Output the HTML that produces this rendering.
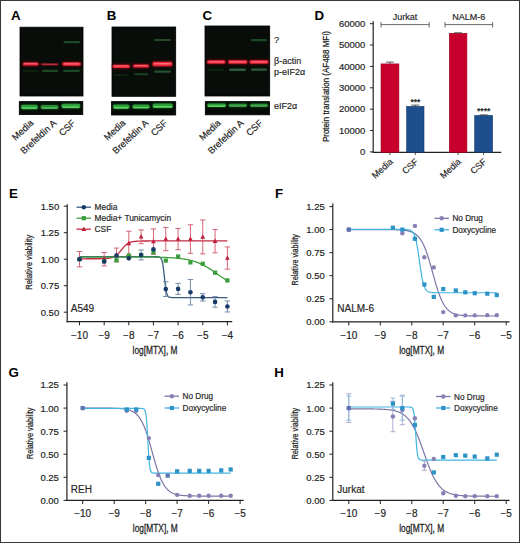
<!DOCTYPE html>
<html><head><meta charset="utf-8"><style>
html,body{margin:0;padding:0;background:#fff;overflow:hidden;}
svg{display:block;}
text{font-family:'Liberation Sans', sans-serif;}
text.r{stroke:#222;stroke-width:0.18px;}
</style></head><body>
<svg width="520" height="543" viewBox="0 0 520 543">
<defs><filter id="bl" x="-20%" y="-100%" width="140%" height="300%"><feGaussianBlur stdDeviation="0.6"/></filter><filter id="bl2" x="-20%" y="-100%" width="140%" height="300%"><feGaussianBlur stdDeviation="1.1"/></filter></defs>
<rect x="0.5" y="0.5" width="519" height="542" fill="#fff" stroke="#383838" stroke-width="1"/>
<text x="11.10" y="19.70" font-size="13.3" text-anchor="start" font-weight="bold" fill="#000" >A</text>
<text x="106.80" y="19.70" font-size="13.3" text-anchor="start" font-weight="bold" fill="#000" >B</text>
<text x="202.40" y="19.80" font-size="13.3" text-anchor="start" font-weight="bold" fill="#000" >C</text>
<text x="314.60" y="19.70" font-size="13.3" text-anchor="start" font-weight="bold" fill="#000" >D</text>
<text x="9.10" y="198.40" font-size="13.3" text-anchor="start" font-weight="bold" fill="#000" >E</text>
<text x="275.10" y="198.40" font-size="13.3" text-anchor="start" font-weight="bold" fill="#000" >F</text>
<text x="8.40" y="377.00" font-size="13.3" text-anchor="start" font-weight="bold" fill="#000" >G</text>
<text x="274.20" y="377.10" font-size="13.3" text-anchor="start" font-weight="bold" fill="#000" >H</text>
<rect x="20" y="27.2" width="63.0" height="68.8" fill="#080d09" stroke="#000" stroke-width="0.8"/>
<rect x="19.3" y="101.6" width="63.5" height="13.0" fill="#060a07" stroke="#000" stroke-width="0.8"/>
<rect x="22.3" y="61.6" width="16.8" height="4.8" rx="1.6" fill="#7a0c18" opacity="0.8" filter="url(#bl2)"/>
<rect x="22.8" y="62.4" width="15.8" height="3.2" rx="1.6" fill="#ee2436" opacity="1.0" filter="url(#bl)"/>
<rect x="24.3" y="63.2" width="12.8" height="1.1" rx="0.6" fill="#ff8a96" opacity="0.75" filter="url(#bl)"/>
<rect x="40.8" y="63.2" width="17.8" height="2.2" rx="1.1" fill="#9c1826" opacity="1.0" filter="url(#bl)"/>
<rect x="42.8" y="64.0" width="13.8" height="0.7" rx="0.3" fill="#d05060" opacity="0.6" filter="url(#bl)"/>
<rect x="61.9" y="61.5" width="19.4" height="5.0" rx="1.6" fill="#7a0c18" opacity="0.8" filter="url(#bl2)"/>
<rect x="62.4" y="62.3" width="18.4" height="3.4" rx="1.6" fill="#ee2436" opacity="1.0" filter="url(#bl)"/>
<rect x="63.9" y="63.2" width="15.4" height="1.2" rx="0.6" fill="#ff8a96" opacity="0.75" filter="url(#bl)"/>
<rect x="23.0" y="70.3" width="15.0" height="2.0" rx="1.0" fill="#10240f" opacity="1.0" filter="url(#bl)"/>
<rect x="42.0" y="69.8" width="16.0" height="2.2" rx="1.1" fill="#1e4622" opacity="1.0" filter="url(#bl)"/>
<rect x="63.0" y="69.8" width="17.0" height="2.2" rx="1.1" fill="#1e4622" opacity="1.0" filter="url(#bl)"/>
<rect x="63.5" y="41.1" width="16.5" height="2.2" rx="1.1" fill="#1e4a26" opacity="1.0" filter="url(#bl)"/>
<rect x="20.5" y="104.1" width="17.8" height="5.8" rx="1.6" fill="#0f4016" opacity="0.9" filter="url(#bl2)"/>
<rect x="21.0" y="104.8" width="16.8" height="4.4" rx="1.6" fill="#2f9e3a" opacity="1.0" filter="url(#bl)"/>
<rect x="22.0" y="107.3" width="14.8" height="1.5" rx="0.8" fill="#6ae072" opacity="0.85" filter="url(#bl)"/>
<rect x="40.2" y="104.2" width="18.6" height="5.6" rx="1.6" fill="#0f4016" opacity="0.9" filter="url(#bl2)"/>
<rect x="40.7" y="104.9" width="17.6" height="4.2" rx="1.6" fill="#2a8a34" opacity="1.0" filter="url(#bl)"/>
<rect x="41.7" y="107.3" width="15.6" height="1.5" rx="0.7" fill="#58c862" opacity="0.85" filter="url(#bl)"/>
<rect x="61.0" y="103.1" width="19.7" height="5.8" rx="1.6" fill="#0f4016" opacity="0.9" filter="url(#bl2)"/>
<rect x="61.5" y="103.8" width="18.7" height="4.4" rx="1.6" fill="#2f9e3a" opacity="1.0" filter="url(#bl)"/>
<rect x="62.5" y="106.3" width="16.7" height="1.5" rx="0.8" fill="#6ae072" opacity="0.85" filter="url(#bl)"/>
<text class="r" x="34.0" y="123.8" font-size="9.3" text-anchor="end" fill="#222" transform="rotate(-43 34.0 123.8)">Media</text>
<text class="r" x="57.0" y="123.8" font-size="9.3" text-anchor="end" fill="#222" transform="rotate(-43 57.0 123.8)">Brefeldin A</text>
<text class="r" x="76.0" y="123.8" font-size="9.3" text-anchor="end" fill="#222" transform="rotate(-43 76.0 123.8)">CSF</text>
<rect x="112" y="27" width="63.7" height="69.3" fill="#080d09" stroke="#000" stroke-width="0.8"/>
<rect x="111.5" y="101.6" width="64.2" height="13.4" fill="#060a07" stroke="#000" stroke-width="0.8"/>
<rect x="112.0" y="63.9" width="18.5" height="4.8" rx="1.6" fill="#7a0c18" opacity="0.8" filter="url(#bl2)"/>
<rect x="112.5" y="64.7" width="17.5" height="3.2" rx="1.6" fill="#ee2436" opacity="1.0" filter="url(#bl)"/>
<rect x="114.0" y="65.5" width="14.5" height="1.1" rx="0.6" fill="#ff8a96" opacity="0.75" filter="url(#bl)"/>
<rect x="132.5" y="63.6" width="17.0" height="4.8" rx="1.6" fill="#7a0c18" opacity="0.8" filter="url(#bl2)"/>
<rect x="133.0" y="64.4" width="16.0" height="3.2" rx="1.6" fill="#ee2436" opacity="1.0" filter="url(#bl)"/>
<rect x="134.5" y="65.2" width="13.0" height="1.1" rx="0.6" fill="#ff8a96" opacity="0.75" filter="url(#bl)"/>
<rect x="152.0" y="61.0" width="20.8" height="6.0" rx="1.6" fill="#7a0c18" opacity="0.8" filter="url(#bl2)"/>
<rect x="152.5" y="61.8" width="19.8" height="4.4" rx="1.6" fill="#ee2436" opacity="1.0" filter="url(#bl)"/>
<rect x="154.0" y="63.0" width="16.8" height="1.5" rx="0.8" fill="#ff8a96" opacity="0.75" filter="url(#bl)"/>
<rect x="114.0" y="74.2" width="15.0" height="2.0" rx="1.0" fill="#0e200f" opacity="1.0" filter="url(#bl)"/>
<rect x="134.0" y="73.3" width="14.0" height="2.0" rx="1.0" fill="#1b401f" opacity="1.0" filter="url(#bl)"/>
<rect x="154.0" y="70.5" width="17.0" height="2.2" rx="1.1" fill="#245030" opacity="1.0" filter="url(#bl)"/>
<rect x="154.0" y="38.9" width="17.0" height="2.2" rx="1.1" fill="#204c2a" opacity="1.0" filter="url(#bl)"/>
<rect x="112.5" y="103.8" width="17.5" height="5.6" rx="1.6" fill="#0f4016" opacity="0.9" filter="url(#bl2)"/>
<rect x="113.0" y="104.5" width="16.5" height="4.2" rx="1.6" fill="#2f9e3a" opacity="1.0" filter="url(#bl)"/>
<rect x="114.0" y="106.9" width="14.5" height="1.5" rx="0.7" fill="#6ae072" opacity="0.85" filter="url(#bl)"/>
<rect x="131.9" y="103.9" width="18.3" height="5.4" rx="1.6" fill="#0f4016" opacity="0.9" filter="url(#bl2)"/>
<rect x="132.4" y="104.6" width="17.3" height="4.0" rx="1.6" fill="#2f9e3a" opacity="1.0" filter="url(#bl)"/>
<rect x="133.4" y="106.9" width="15.3" height="1.4" rx="0.7" fill="#6ae072" opacity="0.85" filter="url(#bl)"/>
<rect x="152.1" y="102.9" width="21.2" height="5.8" rx="1.6" fill="#0f4016" opacity="0.9" filter="url(#bl2)"/>
<rect x="152.6" y="103.6" width="20.2" height="4.4" rx="1.6" fill="#2f9e3a" opacity="1.0" filter="url(#bl)"/>
<rect x="153.6" y="106.1" width="18.2" height="1.5" rx="0.8" fill="#6ae072" opacity="0.85" filter="url(#bl)"/>
<text class="r" x="126.0" y="123.8" font-size="9.3" text-anchor="end" fill="#222" transform="rotate(-43 126.0 123.8)">Media</text>
<text class="r" x="149.0" y="123.8" font-size="9.3" text-anchor="end" fill="#222" transform="rotate(-43 149.0 123.8)">Brefeldin A</text>
<text class="r" x="168.0" y="123.8" font-size="9.3" text-anchor="end" fill="#222" transform="rotate(-43 168.0 123.8)">CSF</text>
<rect x="205" y="26" width="64.7" height="70.0" fill="#080d09" stroke="#000" stroke-width="0.8"/>
<rect x="205.3" y="101.6" width="64.2" height="13.2" fill="#060a07" stroke="#000" stroke-width="0.8"/>
<rect x="206.5" y="59.5" width="19.5" height="5.0" rx="1.6" fill="#7a0c18" opacity="0.8" filter="url(#bl2)"/>
<rect x="207.0" y="60.3" width="18.5" height="3.4" rx="1.6" fill="#ee2436" opacity="1.0" filter="url(#bl)"/>
<rect x="208.5" y="61.2" width="15.5" height="1.2" rx="0.6" fill="#ff8a96" opacity="0.75" filter="url(#bl)"/>
<rect x="227.5" y="59.5" width="20.5" height="5.0" rx="1.6" fill="#7a0c18" opacity="0.8" filter="url(#bl2)"/>
<rect x="228.0" y="60.3" width="19.5" height="3.4" rx="1.6" fill="#ee2436" opacity="1.0" filter="url(#bl)"/>
<rect x="229.5" y="61.2" width="16.5" height="1.2" rx="0.6" fill="#ff8a96" opacity="0.75" filter="url(#bl)"/>
<rect x="249.0" y="59.5" width="20.0" height="5.0" rx="1.6" fill="#7a0c18" opacity="0.8" filter="url(#bl2)"/>
<rect x="249.5" y="60.3" width="19.0" height="3.4" rx="1.6" fill="#ee2436" opacity="1.0" filter="url(#bl)"/>
<rect x="251.0" y="61.2" width="16.0" height="1.2" rx="0.6" fill="#ff8a96" opacity="0.75" filter="url(#bl)"/>
<rect x="208.0" y="69.0" width="16.0" height="2.0" rx="1.0" fill="#10240f" opacity="1.0" filter="url(#bl)"/>
<rect x="229.0" y="68.6" width="17.0" height="2.4" rx="1.2" fill="#2c5c3a" opacity="1.0" filter="url(#bl)"/>
<rect x="251.0" y="68.4" width="16.0" height="2.4" rx="1.2" fill="#2c5c3a" opacity="1.0" filter="url(#bl)"/>
<rect x="251.0" y="39.1" width="16.0" height="2.2" rx="1.1" fill="#1e4a26" opacity="1.0" filter="url(#bl)"/>
<rect x="206.7" y="102.8" width="19.8" height="5.0" rx="1.6" fill="#0f4016" opacity="0.9" filter="url(#bl2)"/>
<rect x="207.2" y="103.5" width="18.8" height="3.6" rx="1.6" fill="#2f9e3a" opacity="1.0" filter="url(#bl)"/>
<rect x="208.2" y="105.6" width="16.8" height="1.3" rx="0.6" fill="#6ae072" opacity="0.85" filter="url(#bl)"/>
<rect x="228.1" y="103.1" width="19.4" height="4.4" rx="1.6" fill="#0f4016" opacity="0.9" filter="url(#bl2)"/>
<rect x="228.6" y="103.8" width="18.4" height="3.0" rx="1.5" fill="#2a8a34" opacity="1.0" filter="url(#bl)"/>
<rect x="229.6" y="105.5" width="16.4" height="1.0" rx="0.5" fill="#58c862" opacity="0.85" filter="url(#bl)"/>
<rect x="249.5" y="103.1" width="19.0" height="4.4" rx="1.6" fill="#0f4016" opacity="0.9" filter="url(#bl2)"/>
<rect x="250.0" y="103.8" width="18.0" height="3.0" rx="1.5" fill="#2a8a34" opacity="1.0" filter="url(#bl)"/>
<rect x="251.0" y="105.5" width="16.0" height="1.0" rx="0.5" fill="#58c862" opacity="0.85" filter="url(#bl)"/>
<text class="r" x="221.3" y="123.8" font-size="9.3" text-anchor="end" fill="#222" transform="rotate(-43 221.3 123.8)">Media</text>
<text class="r" x="244.3" y="123.8" font-size="9.3" text-anchor="end" fill="#222" transform="rotate(-43 244.3 123.8)">Brefeldin A</text>
<text class="r" x="263.3" y="123.8" font-size="9.3" text-anchor="end" fill="#222" transform="rotate(-43 263.3 123.8)">CSF</text>
<text class="r" x="274.00" y="43.40" font-size="9" text-anchor="start" font-weight="normal" fill="#2a2a2a" >?</text>
<text class="r" x="274.00" y="63.70" font-size="9" text-anchor="start" font-weight="normal" fill="#2a2a2a" >&#946;-actin</text>
<text class="r" x="274.00" y="75.20" font-size="9" text-anchor="start" font-weight="normal" fill="#2a2a2a" >p-eIF2&#945;</text>
<text class="r" x="274.00" y="108.60" font-size="9" text-anchor="start" font-weight="normal" fill="#2a2a2a" >eIF2&#945;</text>
<line x1="373.2" y1="21.2" x2="373.2" y2="152.6" stroke="#222" stroke-width="1.2"/>
<line x1="372.6" y1="152.3" x2="501.3" y2="152.3" stroke="#222" stroke-width="1.2"/>
<line x1="370" y1="151.9" x2="373" y2="151.9" stroke="#222" stroke-width="1"/>
<text class="r" x="365.3" y="155.1" font-size="8.4" text-anchor="end" fill="#2a2a2a" transform="translate(365.3 0) scale(1.13 1) translate(-365.3 0)">0</text>
<line x1="370" y1="130.5" x2="373" y2="130.5" stroke="#222" stroke-width="1"/>
<text class="r" x="365.3" y="133.7" font-size="8.4" text-anchor="end" fill="#2a2a2a" transform="translate(365.3 0) scale(1.13 1) translate(-365.3 0)">10000</text>
<line x1="370" y1="109.2" x2="373" y2="109.2" stroke="#222" stroke-width="1"/>
<text class="r" x="365.3" y="112.4" font-size="8.4" text-anchor="end" fill="#2a2a2a" transform="translate(365.3 0) scale(1.13 1) translate(-365.3 0)">20000</text>
<line x1="370" y1="87.8" x2="373" y2="87.8" stroke="#222" stroke-width="1"/>
<text class="r" x="365.3" y="91.0" font-size="8.4" text-anchor="end" fill="#2a2a2a" transform="translate(365.3 0) scale(1.13 1) translate(-365.3 0)">30000</text>
<line x1="370" y1="66.4" x2="373" y2="66.4" stroke="#222" stroke-width="1"/>
<text class="r" x="365.3" y="69.6" font-size="8.4" text-anchor="end" fill="#2a2a2a" transform="translate(365.3 0) scale(1.13 1) translate(-365.3 0)">40000</text>
<line x1="370" y1="45.0" x2="373" y2="45.0" stroke="#222" stroke-width="1"/>
<text class="r" x="365.3" y="48.2" font-size="8.4" text-anchor="end" fill="#2a2a2a" transform="translate(365.3 0) scale(1.13 1) translate(-365.3 0)">50000</text>
<line x1="370" y1="23.7" x2="373" y2="23.7" stroke="#222" stroke-width="1"/>
<text class="r" x="365.3" y="26.9" font-size="8.4" text-anchor="end" fill="#2a2a2a" transform="translate(365.3 0) scale(1.13 1) translate(-365.3 0)">60000</text>
<rect x="381" y="63.9" width="17.9" height="88.4" fill="#c8002c" stroke="#a00020" stroke-width="0.6"/>
<line x1="389.95" y1="63.9" x2="389.95" y2="62.1" stroke="#333" stroke-width="0.8"/>
<line x1="385.95" y1="62.1" x2="393.95" y2="62.1" stroke="#333" stroke-width="0.8"/>
<line x1="389.9" y1="152.8" x2="389.9" y2="155" stroke="#222" stroke-width="0.8"/>
<rect x="406.6" y="106.4" width="17.4" height="45.9" fill="#1d4f8f" stroke="#153a6a" stroke-width="0.6"/>
<line x1="415.3" y1="106.4" x2="415.3" y2="105.1" stroke="#333" stroke-width="0.8"/>
<line x1="411.3" y1="105.1" x2="419.3" y2="105.1" stroke="#333" stroke-width="0.8"/>
<line x1="415.3" y1="152.8" x2="415.3" y2="155" stroke="#222" stroke-width="0.8"/>
<rect x="449.3" y="33.3" width="17.6" height="119.0" fill="#c8002c" stroke="#a00020" stroke-width="0.6"/>
<line x1="458.1" y1="33.3" x2="458.1" y2="32.8" stroke="#333" stroke-width="0.8"/>
<line x1="454.1" y1="32.8" x2="462.1" y2="32.8" stroke="#333" stroke-width="0.8"/>
<line x1="458.1" y1="152.8" x2="458.1" y2="155" stroke="#222" stroke-width="0.8"/>
<rect x="474.7" y="115.4" width="17.9" height="36.9" fill="#1d4f8f" stroke="#153a6a" stroke-width="0.6"/>
<line x1="483.65" y1="115.4" x2="483.65" y2="114.9" stroke="#333" stroke-width="0.8"/>
<line x1="479.65" y1="114.9" x2="487.65" y2="114.9" stroke="#333" stroke-width="0.8"/>
<line x1="483.6" y1="152.8" x2="483.6" y2="155" stroke="#222" stroke-width="0.8"/>
<text class="r" x="393.4" y="162.5" font-size="9" text-anchor="end" fill="#2a2a2a" transform="rotate(-42 393.4 162.5)">Media</text>
<text class="r" x="418.8" y="162.5" font-size="9" text-anchor="end" fill="#2a2a2a" transform="rotate(-42 418.8 162.5)">CSF</text>
<text class="r" x="461.6" y="162.5" font-size="9" text-anchor="end" fill="#2a2a2a" transform="rotate(-42 461.6 162.5)">Media</text>
<text class="r" x="487.1" y="162.5" font-size="9" text-anchor="end" fill="#2a2a2a" transform="rotate(-42 487.1 162.5)">CSF</text>
<line x1="381" y1="24.6" x2="429.2" y2="24.6" stroke="#444" stroke-width="0.8"/>
<line x1="381" y1="22" x2="381" y2="27.5" stroke="#444" stroke-width="0.8"/>
<line x1="429.2" y1="22" x2="429.2" y2="27.5" stroke="#444" stroke-width="0.8"/>
<text class="r" x="405.10" y="20.30" font-size="9" text-anchor="middle" font-weight="normal" fill="#2a2a2a" >Jurkat</text>
<line x1="445" y1="24.6" x2="492.6" y2="24.6" stroke="#444" stroke-width="0.8"/>
<line x1="445" y1="22" x2="445" y2="27.5" stroke="#444" stroke-width="0.8"/>
<line x1="492.6" y1="22" x2="492.6" y2="27.5" stroke="#444" stroke-width="0.8"/>
<text class="r" x="468.80" y="20.30" font-size="9" text-anchor="middle" font-weight="normal" fill="#2a2a2a" >NALM-6</text>
<text x="415.40" y="104.60" font-size="8.6" text-anchor="middle" font-weight="bold" fill="#222" >***</text>
<text x="483.70" y="114.20" font-size="8.6" text-anchor="middle" font-weight="bold" fill="#222" >****</text>
<text x="0" y="0" font-size="9.6" text-anchor="middle" fill="#222" stroke="#222" stroke-width="0.25" transform="translate(329.2 86.5) rotate(-90) scale(0.83 1)">Protein translation (AF488 MFI)</text>
<line x1="67.2" y1="204.3" x2="67.2" y2="322.3" stroke="#222" stroke-width="1.2"/>
<line x1="66.60000000000001" y1="321.7" x2="232.3" y2="321.7" stroke="#222" stroke-width="1.2"/>
<line x1="63.800000000000004" y1="206.2" x2="67.2" y2="206.2" stroke="#222" stroke-width="1"/>
<text class="r" x="59.20" y="209.60" font-size="9.5" text-anchor="end" font-weight="normal" fill="#222" >1.50</text>
<line x1="63.800000000000004" y1="232.7" x2="67.2" y2="232.7" stroke="#222" stroke-width="1"/>
<text class="r" x="59.20" y="236.10" font-size="9.5" text-anchor="end" font-weight="normal" fill="#222" >1.25</text>
<line x1="63.800000000000004" y1="259.2" x2="67.2" y2="259.2" stroke="#222" stroke-width="1"/>
<text class="r" x="59.20" y="262.60" font-size="9.5" text-anchor="end" font-weight="normal" fill="#222" >1.00</text>
<line x1="63.800000000000004" y1="285.7" x2="67.2" y2="285.7" stroke="#222" stroke-width="1"/>
<text class="r" x="59.20" y="289.10" font-size="9.5" text-anchor="end" font-weight="normal" fill="#222" >0.75</text>
<line x1="63.800000000000004" y1="312.2" x2="67.2" y2="312.2" stroke="#222" stroke-width="1"/>
<text class="r" x="59.20" y="315.60" font-size="9.5" text-anchor="end" font-weight="normal" fill="#222" >0.50</text>
<line x1="79.5" y1="321.7" x2="79.5" y2="325.3" stroke="#222" stroke-width="1"/>
<text class="r" x="79.50" y="338.60" font-size="10" text-anchor="middle" font-weight="normal" fill="#222" >&#8722;10</text>
<line x1="104.2" y1="321.7" x2="104.2" y2="325.3" stroke="#222" stroke-width="1"/>
<text class="r" x="104.15" y="338.60" font-size="10" text-anchor="middle" font-weight="normal" fill="#222" >&#8722;9</text>
<line x1="128.8" y1="321.7" x2="128.8" y2="325.3" stroke="#222" stroke-width="1"/>
<text class="r" x="128.80" y="338.60" font-size="10" text-anchor="middle" font-weight="normal" fill="#222" >&#8722;8</text>
<line x1="153.4" y1="321.7" x2="153.4" y2="325.3" stroke="#222" stroke-width="1"/>
<text class="r" x="153.45" y="338.60" font-size="10" text-anchor="middle" font-weight="normal" fill="#222" >&#8722;7</text>
<line x1="178.1" y1="321.7" x2="178.1" y2="325.3" stroke="#222" stroke-width="1"/>
<text class="r" x="178.10" y="338.60" font-size="10" text-anchor="middle" font-weight="normal" fill="#222" >&#8722;6</text>
<line x1="202.8" y1="321.7" x2="202.8" y2="325.3" stroke="#222" stroke-width="1"/>
<text class="r" x="202.75" y="338.60" font-size="10" text-anchor="middle" font-weight="normal" fill="#222" >&#8722;5</text>
<line x1="227.4" y1="321.7" x2="227.4" y2="325.3" stroke="#222" stroke-width="1"/>
<text class="r" x="227.40" y="338.60" font-size="10" text-anchor="middle" font-weight="normal" fill="#222" >&#8722;4</text>
<text x="0" y="0" font-size="10" text-anchor="middle" fill="#222" stroke="#222" stroke-width="0.25" transform="translate(155.0 353.8) scale(0.835 1)">log[MTX], M</text>
<text x="0" y="0" font-size="9.2" text-anchor="middle" fill="#222" stroke="#222" stroke-width="0.25" transform="translate(32.2 262.3) rotate(-90) scale(0.835 1)">Relative viability</text>
<text class="r" x="70.80" y="311.80" font-size="10" text-anchor="start" font-weight="normal" fill="#2a2a2a" >A549</text>
<polyline points="79.50,258.78 79.99,258.78 80.49,258.78 80.98,258.78 81.47,258.78 81.96,258.78 82.46,258.78 82.95,258.78 83.44,258.78 83.94,258.78 84.43,258.78 84.92,258.78 85.42,258.78 85.91,258.78 86.40,258.78 86.90,258.77 87.39,258.77 87.88,258.77 88.37,258.77 88.87,258.77 89.36,258.77 89.85,258.77 90.35,258.77 90.84,258.77 91.33,258.77 91.83,258.77 92.32,258.77 92.81,258.77 93.30,258.77 93.80,258.77 94.29,258.77 94.78,258.77 95.28,258.76 95.77,258.76 96.26,258.76 96.75,258.76 97.25,258.76 97.74,258.75 98.23,258.75 98.73,258.75 99.22,258.74 99.71,258.74 100.21,258.73 100.70,258.72 101.19,258.71 101.69,258.71 102.18,258.69 102.67,258.68 103.16,258.67 103.66,258.65 104.15,258.64 104.64,258.62 105.14,258.59 105.63,258.56 106.12,258.53 106.61,258.50 107.11,258.46 107.60,258.41 108.09,258.36 108.59,258.30 109.08,258.23 109.57,258.15 110.07,258.06 110.56,257.96 111.05,257.85 111.55,257.72 112.04,257.57 112.53,257.41 113.02,257.22 113.52,257.02 114.01,256.78 114.50,256.53 115.00,256.24 115.49,255.93 115.98,255.58 116.47,255.20 116.97,254.79 117.46,254.35 117.95,253.87 118.45,253.36 118.94,252.83 119.43,252.27 119.93,251.69 120.42,251.09 120.91,250.49 121.40,249.87 121.90,249.26 122.39,248.65 122.88,248.05 123.38,247.47 123.87,246.91 124.36,246.38 124.86,245.87 125.35,245.40 125.84,244.95 126.34,244.54 126.83,244.16 127.32,243.82 127.81,243.50 128.31,243.22 128.80,242.96 129.29,242.73 129.79,242.52 130.28,242.34 130.77,242.17 131.26,242.02 131.76,241.90 132.25,241.78 132.74,241.68 133.24,241.59 133.73,241.51 134.22,241.45 134.72,241.39 135.21,241.33 135.70,241.29 136.19,241.25 136.69,241.21 137.18,241.18 137.67,241.15 138.17,241.13 138.66,241.11 139.15,241.09 139.65,241.07 140.14,241.06 140.63,241.05 141.12,241.04 141.62,241.03 142.11,241.02 142.60,241.01 143.10,241.01 143.59,241.00 144.08,241.00 144.58,240.99 145.07,240.99 145.56,240.99 146.06,240.99 146.55,240.98 147.04,240.98 147.53,240.98 148.03,240.98 148.52,240.98 149.01,240.98 149.51,240.97 150.00,240.97 150.49,240.97 150.99,240.97 151.48,240.97 151.97,240.97 152.46,240.97 152.96,240.97 153.45,240.97 153.94,240.97 154.44,240.97 154.93,240.97 155.42,240.97 155.91,240.97 156.41,240.97 156.90,240.97 157.39,240.97 157.89,240.97 158.38,240.97 158.87,240.97 159.37,240.97 159.86,240.97 160.35,240.97 160.84,240.97 161.34,240.97 161.83,240.97 162.32,240.97 162.82,240.97 163.31,240.97 163.80,240.97 164.30,240.97 164.79,240.97 165.28,240.97 165.77,240.97 166.27,240.97 166.76,240.97 167.25,240.97 167.75,240.97 168.24,240.97 168.73,240.97 169.23,240.97 169.72,240.97 170.21,240.97 170.70,240.97 171.20,240.97 171.69,240.97 172.18,240.97 172.68,240.97 173.17,240.97 173.66,240.97 174.16,240.97 174.65,240.97 175.14,240.97 175.63,240.97 176.13,240.97 176.62,240.97 177.11,240.97 177.61,240.97 178.10,240.97 178.59,240.97 179.09,240.97 179.58,240.97 180.07,240.97 180.56,240.97 181.06,240.97 181.55,240.97 182.04,240.97 182.54,240.97 183.03,240.97 183.52,240.97 184.02,240.97 184.51,240.97 185.00,240.97 185.50,240.97 185.99,240.97 186.48,240.97 186.97,240.97 187.47,240.97 187.96,240.97 188.45,240.97 188.95,240.97 189.44,240.97 189.93,240.97 190.43,240.97 190.92,240.97 191.41,240.97 191.90,240.97 192.40,240.97 192.89,240.97 193.38,240.97 193.88,240.97 194.37,240.97 194.86,240.97 195.36,240.97 195.85,240.97 196.34,240.97 196.83,240.97 197.33,240.97 197.82,240.97 198.31,240.97 198.81,240.97 199.30,240.97 199.79,240.97 200.28,240.97 200.78,240.97 201.27,240.97 201.76,240.97 202.26,240.97 202.75,240.97 203.24,240.97 203.74,240.97 204.23,240.97 204.72,240.97 205.21,240.97 205.71,240.97 206.20,240.97 206.69,240.97 207.19,240.97 207.68,240.97 208.17,240.97 208.67,240.97 209.16,240.97 209.65,240.97 210.14,240.97 210.64,240.97 211.13,240.97 211.62,240.97 212.12,240.97 212.61,240.97 213.10,240.97 213.60,240.97 214.09,240.97 214.58,240.97 215.07,240.97 215.57,240.97 216.06,240.97 216.55,240.97 217.05,240.97 217.54,240.97 218.03,240.97 218.53,240.97 219.02,240.97 219.51,240.97 220.00,240.97 220.50,240.97 220.99,240.97 221.48,240.97 221.98,240.97 222.47,240.97 222.96,240.97 223.46,240.97 223.95,240.97 224.44,240.97 224.94,240.97 225.43,240.97 225.92,240.97 226.41,240.97 226.91,240.97 227.40,240.97" fill="none" stroke="#c42a44" stroke-width="1.3" stroke-linejoin="round"/>
<polyline points="79.50,256.60 79.99,256.60 80.49,256.60 80.98,256.60 81.47,256.60 81.96,256.60 82.46,256.60 82.95,256.60 83.44,256.60 83.94,256.60 84.43,256.60 84.92,256.60 85.42,256.60 85.91,256.60 86.40,256.60 86.90,256.60 87.39,256.60 87.88,256.60 88.37,256.60 88.87,256.60 89.36,256.60 89.85,256.60 90.35,256.60 90.84,256.60 91.33,256.60 91.83,256.60 92.32,256.60 92.81,256.60 93.30,256.60 93.80,256.60 94.29,256.60 94.78,256.60 95.28,256.60 95.77,256.60 96.26,256.60 96.75,256.60 97.25,256.60 97.74,256.60 98.23,256.60 98.73,256.60 99.22,256.60 99.71,256.60 100.21,256.60 100.70,256.60 101.19,256.60 101.69,256.60 102.18,256.60 102.67,256.60 103.16,256.60 103.66,256.60 104.15,256.60 104.64,256.60 105.14,256.60 105.63,256.60 106.12,256.60 106.61,256.60 107.11,256.60 107.60,256.60 108.09,256.60 108.59,256.60 109.08,256.60 109.57,256.60 110.07,256.60 110.56,256.60 111.05,256.60 111.55,256.60 112.04,256.60 112.53,256.60 113.02,256.60 113.52,256.60 114.01,256.60 114.50,256.60 115.00,256.60 115.49,256.60 115.98,256.60 116.47,256.60 116.97,256.60 117.46,256.60 117.95,256.60 118.45,256.60 118.94,256.60 119.43,256.60 119.93,256.60 120.42,256.60 120.91,256.60 121.40,256.60 121.90,256.60 122.39,256.60 122.88,256.60 123.38,256.60 123.87,256.60 124.36,256.60 124.86,256.60 125.35,256.60 125.84,256.60 126.34,256.60 126.83,256.60 127.32,256.60 127.81,256.60 128.31,256.60 128.80,256.60 129.29,256.60 129.79,256.60 130.28,256.60 130.77,256.60 131.26,256.60 131.76,256.60 132.25,256.60 132.74,256.60 133.24,256.60 133.73,256.60 134.22,256.60 134.72,256.60 135.21,256.60 135.70,256.60 136.19,256.60 136.69,256.60 137.18,256.60 137.67,256.60 138.17,256.60 138.66,256.60 139.15,256.60 139.65,256.60 140.14,256.60 140.63,256.60 141.12,256.60 141.62,256.60 142.11,256.60 142.60,256.60 143.10,256.60 143.59,256.60 144.08,256.60 144.58,256.60 145.07,256.60 145.56,256.60 146.06,256.60 146.55,256.60 147.04,256.60 147.53,256.60 148.03,256.60 148.52,256.60 149.01,256.60 149.51,256.60 150.00,256.60 150.49,256.60 150.99,256.60 151.48,256.60 151.97,256.60 152.46,256.60 152.96,256.60 153.45,256.60 153.94,256.61 154.44,256.61 154.93,256.61 155.42,256.61 155.91,256.62 156.41,256.63 156.90,256.64 157.39,256.66 157.89,256.70 158.38,256.75 158.87,256.84 159.37,256.97 159.86,257.19 160.35,257.52 160.84,258.04 161.34,258.83 161.83,260.03 162.32,261.78 162.82,264.24 163.31,267.52 163.80,271.57 164.30,276.14 164.79,280.82 165.28,285.12 165.77,288.72 166.27,291.51 166.76,293.52 167.25,294.92 167.75,295.86 168.24,296.47 168.73,296.87 169.23,297.13 169.72,297.29 170.21,297.39 170.70,297.46 171.20,297.50 171.69,297.53 172.18,297.54 172.68,297.55 173.17,297.56 173.66,297.56 174.16,297.57 174.65,297.57 175.14,297.57 175.63,297.57 176.13,297.57 176.62,297.57 177.11,297.57 177.61,297.57 178.10,297.57 178.59,297.57 179.09,297.57 179.58,297.57 180.07,297.57 180.56,297.57 181.06,297.57 181.55,297.57 182.04,297.57 182.54,297.57 183.03,297.57 183.52,297.57 184.02,297.57 184.51,297.57 185.00,297.57 185.50,297.57 185.99,297.57 186.48,297.57 186.97,297.57 187.47,297.57 187.96,297.57 188.45,297.57 188.95,297.57 189.44,297.57 189.93,297.57 190.43,297.57 190.92,297.57 191.41,297.57 191.90,297.57 192.40,297.57 192.89,297.57 193.38,297.57 193.88,297.57 194.37,297.57 194.86,297.57 195.36,297.57 195.85,297.57 196.34,297.57 196.83,297.57 197.33,297.57 197.82,297.57 198.31,297.57 198.81,297.57 199.30,297.57 199.79,297.57 200.28,297.57 200.78,297.57 201.27,297.57 201.76,297.57 202.26,297.57 202.75,297.57 203.24,297.57 203.74,297.57 204.23,297.57 204.72,297.57 205.21,297.57 205.71,297.57 206.20,297.57 206.69,297.57 207.19,297.57 207.68,297.57 208.17,297.57 208.67,297.57 209.16,297.57 209.65,297.57 210.14,297.57 210.64,297.57 211.13,297.57 211.62,297.57 212.12,297.57 212.61,297.57 213.10,297.57 213.60,297.57 214.09,297.57 214.58,297.57 215.07,297.57 215.57,297.57 216.06,297.57 216.55,297.57 217.05,297.57 217.54,297.57 218.03,297.57 218.53,297.57 219.02,297.57 219.51,297.57 220.00,297.57 220.50,297.57 220.99,297.57 221.48,297.57 221.98,297.57 222.47,297.57 222.96,297.57 223.46,297.57 223.95,297.57 224.44,297.57 224.94,297.57 225.43,297.57 225.92,297.57 226.41,297.57 226.91,297.57 227.40,297.57" fill="none" stroke="#3a5a82" stroke-width="1.3" stroke-linejoin="round"/>
<polyline points="79.50,257.05 79.99,257.05 80.49,257.05 80.98,257.05 81.47,257.05 81.96,257.05 82.46,257.05 82.95,257.05 83.44,257.05 83.94,257.05 84.43,257.05 84.92,257.05 85.42,257.05 85.91,257.05 86.40,257.05 86.90,257.05 87.39,257.05 87.88,257.05 88.37,257.05 88.87,257.05 89.36,257.05 89.85,257.05 90.35,257.05 90.84,257.05 91.33,257.05 91.83,257.05 92.32,257.05 92.81,257.05 93.30,257.05 93.80,257.05 94.29,257.05 94.78,257.05 95.28,257.05 95.77,257.05 96.26,257.05 96.75,257.05 97.25,257.05 97.74,257.05 98.23,257.05 98.73,257.05 99.22,257.05 99.71,257.05 100.21,257.05 100.70,257.05 101.19,257.05 101.69,257.05 102.18,257.05 102.67,257.05 103.16,257.05 103.66,257.05 104.15,257.05 104.64,257.05 105.14,257.05 105.63,257.05 106.12,257.05 106.61,257.05 107.11,257.05 107.60,257.05 108.09,257.05 108.59,257.05 109.08,257.05 109.57,257.05 110.07,257.05 110.56,257.05 111.05,257.05 111.55,257.05 112.04,257.05 112.53,257.05 113.02,257.05 113.52,257.05 114.01,257.05 114.50,257.05 115.00,257.05 115.49,257.05 115.98,257.06 116.47,257.06 116.97,257.06 117.46,257.06 117.95,257.06 118.45,257.06 118.94,257.06 119.43,257.06 119.93,257.06 120.42,257.06 120.91,257.06 121.40,257.06 121.90,257.06 122.39,257.06 122.88,257.06 123.38,257.06 123.87,257.06 124.36,257.06 124.86,257.06 125.35,257.06 125.84,257.06 126.34,257.06 126.83,257.07 127.32,257.07 127.81,257.07 128.31,257.07 128.80,257.07 129.29,257.07 129.79,257.07 130.28,257.07 130.77,257.07 131.26,257.07 131.76,257.07 132.25,257.08 132.74,257.08 133.24,257.08 133.73,257.08 134.22,257.08 134.72,257.08 135.21,257.08 135.70,257.08 136.19,257.09 136.69,257.09 137.18,257.09 137.67,257.09 138.17,257.09 138.66,257.09 139.15,257.10 139.65,257.10 140.14,257.10 140.63,257.10 141.12,257.10 141.62,257.11 142.11,257.11 142.60,257.11 143.10,257.11 143.59,257.12 144.08,257.12 144.58,257.12 145.07,257.13 145.56,257.13 146.06,257.13 146.55,257.14 147.04,257.14 147.53,257.14 148.03,257.15 148.52,257.15 149.01,257.16 149.51,257.16 150.00,257.17 150.49,257.17 150.99,257.18 151.48,257.18 151.97,257.19 152.46,257.19 152.96,257.20 153.45,257.21 153.94,257.21 154.44,257.22 154.93,257.23 155.42,257.24 155.91,257.24 156.41,257.25 156.90,257.26 157.39,257.27 157.89,257.28 158.38,257.29 158.87,257.30 159.37,257.31 159.86,257.32 160.35,257.33 160.84,257.34 161.34,257.36 161.83,257.37 162.32,257.38 162.82,257.40 163.31,257.41 163.80,257.42 164.30,257.44 164.79,257.46 165.28,257.47 165.77,257.49 166.27,257.51 166.76,257.53 167.25,257.55 167.75,257.57 168.24,257.59 168.73,257.62 169.23,257.64 169.72,257.66 170.21,257.69 170.70,257.72 171.20,257.74 171.69,257.77 172.18,257.80 172.68,257.83 173.17,257.87 173.66,257.90 174.16,257.93 174.65,257.97 175.14,258.01 175.63,258.05 176.13,258.09 176.62,258.13 177.11,258.18 177.61,258.22 178.10,258.27 178.59,258.32 179.09,258.37 179.58,258.42 180.07,258.48 180.56,258.54 181.06,258.60 181.55,258.66 182.04,258.73 182.54,258.79 183.03,258.86 183.52,258.94 184.02,259.01 184.51,259.09 185.00,259.17 185.50,259.25 185.99,259.34 186.48,259.43 186.97,259.52 187.47,259.62 187.96,259.72 188.45,259.83 188.95,259.93 189.44,260.04 189.93,260.16 190.43,260.28 190.92,260.40 191.41,260.53 191.90,260.66 192.40,260.80 192.89,260.94 193.38,261.08 193.88,261.23 194.37,261.38 194.86,261.54 195.36,261.71 195.85,261.88 196.34,262.05 196.83,262.23 197.33,262.41 197.82,262.60 198.31,262.80 198.81,263.00 199.30,263.20 199.79,263.41 200.28,263.63 200.78,263.85 201.27,264.08 201.76,264.31 202.26,264.55 202.75,264.80 203.24,265.05 203.74,265.30 204.23,265.56 204.72,265.83 205.21,266.10 205.71,266.38 206.20,266.66 206.69,266.95 207.19,267.24 207.68,267.54 208.17,267.84 208.67,268.14 209.16,268.45 209.65,268.77 210.14,269.09 210.64,269.41 211.13,269.73 211.62,270.06 212.12,270.40 212.61,270.73 213.10,271.07 213.60,271.41 214.09,271.75 214.58,272.09 215.07,272.44 215.57,272.79 216.06,273.13 216.55,273.48 217.05,273.83 217.54,274.18 218.03,274.53 218.53,274.87 219.02,275.22 219.51,275.57 220.00,275.91 220.50,276.25 220.99,276.59 221.48,276.93 221.98,277.27 222.47,277.60 222.96,277.93 223.46,278.26 223.95,278.58 224.44,278.90 224.94,279.21 225.43,279.53 225.92,279.83 226.41,280.13 226.91,280.43 227.40,280.73" fill="none" stroke="#3f9f3f" stroke-width="1.3" stroke-linejoin="round"/>
<line x1="79.50" y1="251.57" x2="79.50" y2="266.83" stroke="#d0566a" stroke-width="0.9"/>
<line x1="76.80" y1="251.57" x2="82.20" y2="251.57" stroke="#d0566a" stroke-width="0.9"/>
<line x1="76.80" y1="266.83" x2="82.20" y2="266.83" stroke="#d0566a" stroke-width="0.9"/>
<line x1="104.15" y1="252.52" x2="104.15" y2="265.88" stroke="#d0566a" stroke-width="0.9"/>
<line x1="101.45" y1="252.52" x2="106.85" y2="252.52" stroke="#d0566a" stroke-width="0.9"/>
<line x1="101.45" y1="265.88" x2="106.85" y2="265.88" stroke="#d0566a" stroke-width="0.9"/>
<line x1="116.47" y1="248.07" x2="116.47" y2="261.85" stroke="#d0566a" stroke-width="0.9"/>
<line x1="113.77" y1="248.07" x2="119.17" y2="248.07" stroke="#d0566a" stroke-width="0.9"/>
<line x1="113.77" y1="261.85" x2="119.17" y2="261.85" stroke="#d0566a" stroke-width="0.9"/>
<line x1="128.80" y1="231.22" x2="128.80" y2="255.60" stroke="#d0566a" stroke-width="0.9"/>
<line x1="126.10" y1="231.22" x2="131.50" y2="231.22" stroke="#d0566a" stroke-width="0.9"/>
<line x1="126.10" y1="255.60" x2="131.50" y2="255.60" stroke="#d0566a" stroke-width="0.9"/>
<line x1="141.12" y1="229.94" x2="141.12" y2="243.72" stroke="#d0566a" stroke-width="0.9"/>
<line x1="138.43" y1="229.94" x2="143.82" y2="229.94" stroke="#d0566a" stroke-width="0.9"/>
<line x1="138.43" y1="243.72" x2="143.82" y2="243.72" stroke="#d0566a" stroke-width="0.9"/>
<line x1="153.45" y1="228.88" x2="153.45" y2="254.32" stroke="#d0566a" stroke-width="0.9"/>
<line x1="150.75" y1="228.88" x2="156.15" y2="228.88" stroke="#d0566a" stroke-width="0.9"/>
<line x1="150.75" y1="254.32" x2="156.15" y2="254.32" stroke="#d0566a" stroke-width="0.9"/>
<line x1="165.77" y1="227.40" x2="165.77" y2="250.72" stroke="#d0566a" stroke-width="0.9"/>
<line x1="163.07" y1="227.40" x2="168.47" y2="227.40" stroke="#d0566a" stroke-width="0.9"/>
<line x1="163.07" y1="250.72" x2="168.47" y2="250.72" stroke="#d0566a" stroke-width="0.9"/>
<line x1="178.10" y1="228.46" x2="178.10" y2="249.66" stroke="#d0566a" stroke-width="0.9"/>
<line x1="175.40" y1="228.46" x2="180.80" y2="228.46" stroke="#d0566a" stroke-width="0.9"/>
<line x1="175.40" y1="249.66" x2="180.80" y2="249.66" stroke="#d0566a" stroke-width="0.9"/>
<line x1="190.43" y1="224.75" x2="190.43" y2="253.37" stroke="#d0566a" stroke-width="0.9"/>
<line x1="187.73" y1="224.75" x2="193.12" y2="224.75" stroke="#d0566a" stroke-width="0.9"/>
<line x1="187.73" y1="253.37" x2="193.12" y2="253.37" stroke="#d0566a" stroke-width="0.9"/>
<line x1="202.75" y1="219.98" x2="202.75" y2="253.90" stroke="#d0566a" stroke-width="0.9"/>
<line x1="200.05" y1="219.98" x2="205.45" y2="219.98" stroke="#d0566a" stroke-width="0.9"/>
<line x1="200.05" y1="253.90" x2="205.45" y2="253.90" stroke="#d0566a" stroke-width="0.9"/>
<line x1="215.07" y1="229.52" x2="215.07" y2="252.84" stroke="#d0566a" stroke-width="0.9"/>
<line x1="212.38" y1="229.52" x2="217.77" y2="229.52" stroke="#d0566a" stroke-width="0.9"/>
<line x1="212.38" y1="252.84" x2="217.77" y2="252.84" stroke="#d0566a" stroke-width="0.9"/>
<line x1="227.40" y1="246.90" x2="227.40" y2="269.16" stroke="#d0566a" stroke-width="0.9"/>
<line x1="224.70" y1="246.90" x2="230.10" y2="246.90" stroke="#d0566a" stroke-width="0.9"/>
<line x1="224.70" y1="269.16" x2="230.10" y2="269.16" stroke="#d0566a" stroke-width="0.9"/>
<line x1="141.12" y1="249.98" x2="141.12" y2="259.94" stroke="#66809e" stroke-width="0.9"/>
<line x1="138.43" y1="249.98" x2="143.82" y2="249.98" stroke="#66809e" stroke-width="0.9"/>
<line x1="138.43" y1="259.94" x2="143.82" y2="259.94" stroke="#66809e" stroke-width="0.9"/>
<line x1="165.77" y1="281.67" x2="165.77" y2="296.51" stroke="#66809e" stroke-width="0.9"/>
<line x1="163.07" y1="281.67" x2="168.47" y2="281.67" stroke="#66809e" stroke-width="0.9"/>
<line x1="163.07" y1="296.51" x2="168.47" y2="296.51" stroke="#66809e" stroke-width="0.9"/>
<line x1="178.10" y1="283.37" x2="178.10" y2="294.39" stroke="#66809e" stroke-width="0.9"/>
<line x1="175.40" y1="283.37" x2="180.80" y2="283.37" stroke="#66809e" stroke-width="0.9"/>
<line x1="175.40" y1="294.39" x2="180.80" y2="294.39" stroke="#66809e" stroke-width="0.9"/>
<line x1="190.43" y1="279.55" x2="190.43" y2="304.99" stroke="#66809e" stroke-width="0.9"/>
<line x1="187.73" y1="279.55" x2="193.12" y2="279.55" stroke="#66809e" stroke-width="0.9"/>
<line x1="187.73" y1="304.99" x2="193.12" y2="304.99" stroke="#66809e" stroke-width="0.9"/>
<line x1="202.75" y1="293.65" x2="202.75" y2="301.07" stroke="#66809e" stroke-width="0.9"/>
<line x1="200.05" y1="293.65" x2="205.45" y2="293.65" stroke="#66809e" stroke-width="0.9"/>
<line x1="200.05" y1="301.07" x2="205.45" y2="301.07" stroke="#66809e" stroke-width="0.9"/>
<line x1="215.07" y1="296.62" x2="215.07" y2="307.22" stroke="#66809e" stroke-width="0.9"/>
<line x1="212.38" y1="296.62" x2="217.77" y2="296.62" stroke="#66809e" stroke-width="0.9"/>
<line x1="212.38" y1="307.22" x2="217.77" y2="307.22" stroke="#66809e" stroke-width="0.9"/>
<line x1="227.40" y1="300.96" x2="227.40" y2="311.99" stroke="#66809e" stroke-width="0.9"/>
<line x1="224.70" y1="300.96" x2="230.10" y2="300.96" stroke="#66809e" stroke-width="0.9"/>
<line x1="224.70" y1="311.99" x2="230.10" y2="311.99" stroke="#66809e" stroke-width="0.9"/>
<polygon points="79.50,256.56 81.92,260.96 77.08,260.96" fill="#be1e3a"/>
<polygon points="104.15,256.56 106.57,260.96 101.73,260.96" fill="#be1e3a"/>
<polygon points="116.47,252.32 118.89,256.72 114.05,256.72" fill="#be1e3a"/>
<polygon points="128.80,240.77 131.22,245.17 126.38,245.17" fill="#be1e3a"/>
<polygon points="141.12,234.19 143.54,238.59 138.71,238.59" fill="#be1e3a"/>
<polygon points="153.45,238.96 155.87,243.36 151.03,243.36" fill="#be1e3a"/>
<polygon points="165.77,236.42 168.19,240.82 163.35,240.82" fill="#be1e3a"/>
<polygon points="178.10,236.42 180.52,240.82 175.68,240.82" fill="#be1e3a"/>
<polygon points="190.43,236.42 192.84,240.82 188.01,240.82" fill="#be1e3a"/>
<polygon points="202.75,234.30 205.17,238.70 200.33,238.70" fill="#be1e3a"/>
<polygon points="215.07,238.54 217.49,242.94 212.66,242.94" fill="#be1e3a"/>
<polygon points="227.40,255.39 229.82,259.79 224.98,259.79" fill="#be1e3a"/>
<rect x="77.40" y="257.10" width="4.2" height="4.2" fill="#3a9c3a"/>
<rect x="102.05" y="259.22" width="4.2" height="4.2" fill="#3a9c3a"/>
<rect x="114.38" y="258.16" width="4.2" height="4.2" fill="#3a9c3a"/>
<rect x="126.70" y="253.39" width="4.2" height="4.2" fill="#3a9c3a"/>
<rect x="139.03" y="252.86" width="4.2" height="4.2" fill="#3a9c3a"/>
<rect x="151.35" y="250.21" width="4.2" height="4.2" fill="#3a9c3a"/>
<rect x="163.67" y="258.48" width="4.2" height="4.2" fill="#3a9c3a"/>
<rect x="176.00" y="254.45" width="4.2" height="4.2" fill="#3a9c3a"/>
<rect x="188.33" y="260.28" width="4.2" height="4.2" fill="#3a9c3a"/>
<rect x="200.65" y="261.66" width="4.2" height="4.2" fill="#3a9c3a"/>
<rect x="212.97" y="270.56" width="4.2" height="4.2" fill="#3a9c3a"/>
<rect x="225.30" y="278.30" width="4.2" height="4.2" fill="#3a9c3a"/>
<circle cx="79.50" cy="259.20" r="2.3" fill="#173a66"/>
<circle cx="104.15" cy="261.53" r="2.3" fill="#173a66"/>
<circle cx="116.47" cy="255.49" r="2.3" fill="#173a66"/>
<circle cx="128.80" cy="258.35" r="2.3" fill="#173a66"/>
<circle cx="141.12" cy="254.96" r="2.3" fill="#173a66"/>
<circle cx="153.45" cy="249.34" r="2.3" fill="#173a66"/>
<circle cx="165.77" cy="289.09" r="2.3" fill="#173a66"/>
<circle cx="178.10" cy="288.88" r="2.3" fill="#173a66"/>
<circle cx="190.43" cy="292.27" r="2.3" fill="#173a66"/>
<circle cx="202.75" cy="297.36" r="2.3" fill="#173a66"/>
<circle cx="215.07" cy="301.92" r="2.3" fill="#173a66"/>
<circle cx="227.40" cy="306.48" r="2.3" fill="#173a66"/>
<line x1="76.5" y1="207.2" x2="91.0" y2="207.2" stroke="#3a5a82" stroke-width="1.3"/>
<circle cx="83.80" cy="207.20" r="2.2" fill="#173a66"/>
<text class="r" x="94.50" y="210.20" font-size="8.4" text-anchor="start" font-weight="normal" fill="#2a2a2a" >Media</text>
<line x1="76.5" y1="218.2" x2="91.0" y2="218.2" stroke="#3f9f3f" stroke-width="1.3"/>
<rect x="81.70" y="216.10" width="4.2" height="4.2" fill="#3a9c3a"/>
<text class="r" x="94.50" y="221.20" font-size="8.4" text-anchor="start" font-weight="normal" fill="#2a2a2a" >Media+ Tunicamycin</text>
<line x1="76.5" y1="229.2" x2="91.0" y2="229.2" stroke="#c42a44" stroke-width="1.3"/>
<polygon points="83.80,226.56 86.22,230.96 81.38,230.96" fill="#be1e3a"/>
<text class="r" x="94.50" y="232.20" font-size="8.4" text-anchor="start" font-weight="normal" fill="#2a2a2a" >CSF</text>
<line x1="332.8" y1="203.6" x2="332.8" y2="322.40000000000003" stroke="#222" stroke-width="1.2"/>
<line x1="332.2" y1="321.8" x2="509.6" y2="321.8" stroke="#222" stroke-width="1.2"/>
<line x1="329.40000000000003" y1="206.6" x2="332.8" y2="206.6" stroke="#222" stroke-width="1"/>
<text class="r" x="324.80" y="209.95" font-size="9.5" text-anchor="end" font-weight="normal" fill="#222" >1.25</text>
<line x1="329.40000000000003" y1="229.6" x2="332.8" y2="229.6" stroke="#222" stroke-width="1"/>
<text class="r" x="324.80" y="233.00" font-size="9.5" text-anchor="end" font-weight="normal" fill="#222" >1.00</text>
<line x1="329.40000000000003" y1="252.7" x2="332.8" y2="252.7" stroke="#222" stroke-width="1"/>
<text class="r" x="324.80" y="256.05" font-size="9.5" text-anchor="end" font-weight="normal" fill="#222" >0.75</text>
<line x1="329.40000000000003" y1="275.7" x2="332.8" y2="275.7" stroke="#222" stroke-width="1"/>
<text class="r" x="324.80" y="279.10" font-size="9.5" text-anchor="end" font-weight="normal" fill="#222" >0.50</text>
<line x1="329.40000000000003" y1="298.8" x2="332.8" y2="298.8" stroke="#222" stroke-width="1"/>
<text class="r" x="324.80" y="302.15" font-size="9.5" text-anchor="end" font-weight="normal" fill="#222" >0.25</text>
<line x1="329.40000000000003" y1="321.8" x2="332.8" y2="321.8" stroke="#222" stroke-width="1"/>
<text class="r" x="324.80" y="325.20" font-size="9.5" text-anchor="end" font-weight="normal" fill="#222" >0.00</text>
<line x1="348.8" y1="321.8" x2="348.8" y2="325.40000000000003" stroke="#222" stroke-width="1"/>
<text class="r" x="348.80" y="338.70" font-size="10" text-anchor="middle" font-weight="normal" fill="#222" >&#8722;10</text>
<line x1="380.3" y1="321.8" x2="380.3" y2="325.40000000000003" stroke="#222" stroke-width="1"/>
<text class="r" x="380.28" y="338.70" font-size="10" text-anchor="middle" font-weight="normal" fill="#222" >&#8722;9</text>
<line x1="411.8" y1="321.8" x2="411.8" y2="325.40000000000003" stroke="#222" stroke-width="1"/>
<text class="r" x="411.76" y="338.70" font-size="10" text-anchor="middle" font-weight="normal" fill="#222" >&#8722;8</text>
<line x1="443.2" y1="321.8" x2="443.2" y2="325.40000000000003" stroke="#222" stroke-width="1"/>
<text class="r" x="443.24" y="338.70" font-size="10" text-anchor="middle" font-weight="normal" fill="#222" >&#8722;7</text>
<line x1="474.7" y1="321.8" x2="474.7" y2="325.40000000000003" stroke="#222" stroke-width="1"/>
<text class="r" x="474.72" y="338.70" font-size="10" text-anchor="middle" font-weight="normal" fill="#222" >&#8722;6</text>
<line x1="506.2" y1="321.8" x2="506.2" y2="325.40000000000003" stroke="#222" stroke-width="1"/>
<text class="r" x="506.20" y="338.70" font-size="10" text-anchor="middle" font-weight="normal" fill="#222" >&#8722;5</text>
<text x="0" y="0" font-size="10" text-anchor="middle" fill="#222" stroke="#222" stroke-width="0.25" transform="translate(421.7 353.8) scale(0.835 1)">log[MTX], M</text>
<text x="0" y="0" font-size="9.2" text-anchor="middle" fill="#222" stroke="#222" stroke-width="0.25" transform="translate(298.4 259.8) rotate(-90) scale(0.78 1)">Relative viability</text>
<text class="r" x="337.30" y="311.70" font-size="10" text-anchor="start" font-weight="normal" fill="#2a2a2a" >NALM-6</text>
<polyline points="348.80,229.60 349.29,229.60 349.79,229.60 350.28,229.60 350.77,229.60 351.27,229.60 351.76,229.60 352.25,229.60 352.75,229.60 353.24,229.60 353.73,229.60 354.23,229.60 354.72,229.60 355.21,229.60 355.70,229.60 356.20,229.60 356.69,229.60 357.18,229.60 357.68,229.60 358.17,229.60 358.66,229.60 359.16,229.60 359.65,229.60 360.14,229.60 360.64,229.60 361.13,229.60 361.62,229.60 362.12,229.60 362.61,229.60 363.10,229.60 363.60,229.60 364.09,229.60 364.58,229.60 365.08,229.60 365.57,229.60 366.06,229.60 366.55,229.60 367.05,229.60 367.54,229.60 368.03,229.60 368.53,229.60 369.02,229.60 369.51,229.60 370.01,229.60 370.50,229.60 370.99,229.60 371.49,229.60 371.98,229.60 372.47,229.60 372.97,229.60 373.46,229.60 373.95,229.60 374.45,229.60 374.94,229.61 375.43,229.61 375.93,229.61 376.42,229.61 376.91,229.61 377.40,229.61 377.90,229.61 378.39,229.61 378.88,229.61 379.38,229.61 379.87,229.61 380.36,229.61 380.86,229.61 381.35,229.62 381.84,229.62 382.34,229.62 382.83,229.62 383.32,229.62 383.82,229.62 384.31,229.63 384.80,229.63 385.30,229.63 385.79,229.63 386.28,229.64 386.78,229.64 387.27,229.64 387.76,229.65 388.25,229.65 388.75,229.65 389.24,229.66 389.73,229.66 390.23,229.67 390.72,229.67 391.21,229.68 391.71,229.69 392.20,229.69 392.69,229.70 393.19,229.71 393.68,229.72 394.17,229.73 394.67,229.74 395.16,229.76 395.65,229.77 396.15,229.78 396.64,229.80 397.13,229.82 397.63,229.84 398.12,229.86 398.61,229.88 399.11,229.90 399.60,229.93 400.09,229.96 400.58,229.99 401.08,230.02 401.57,230.06 402.06,230.10 402.56,230.14 403.05,230.19 403.54,230.24 404.04,230.29 404.53,230.35 405.02,230.41 405.52,230.48 406.01,230.56 406.50,230.64 407.00,230.73 407.49,230.83 407.98,230.93 408.48,231.04 408.97,231.17 409.46,231.30 409.96,231.44 410.45,231.60 410.94,231.77 411.43,231.95 411.93,232.15 412.42,232.36 412.91,232.59 413.41,232.84 413.90,233.11 414.39,233.40 414.89,233.71 415.38,234.05 415.87,234.42 416.37,234.81 416.86,235.23 417.35,235.68 417.85,236.17 418.34,236.69 418.83,237.25 419.33,237.84 419.82,238.48 420.31,239.17 420.81,239.90 421.30,240.67 421.79,241.50 422.28,242.38 422.78,243.31 423.27,244.29 423.76,245.33 424.26,246.43 424.75,247.58 425.24,248.79 425.74,250.06 426.23,251.38 426.72,252.76 427.22,254.19 427.71,255.68 428.20,257.21 428.70,258.79 429.19,260.42 429.68,262.08 430.18,263.78 430.67,265.51 431.16,267.26 431.66,269.03 432.15,270.81 432.64,272.61 433.13,274.40 433.63,276.18 434.12,277.96 434.61,279.71 435.11,281.45 435.60,283.15 436.09,284.82 436.59,286.46 437.08,288.05 437.57,289.59 438.07,291.09 438.56,292.53 439.05,293.92 439.55,295.26 440.04,296.54 440.53,297.76 441.03,298.92 441.52,300.03 442.01,301.08 442.51,302.08 443.00,303.02 443.49,303.91 443.99,304.75 444.48,305.53 444.97,306.27 445.46,306.97 445.96,307.61 446.45,308.22 446.94,308.79 447.44,309.32 447.93,309.81 448.42,310.27 448.92,310.70 449.41,311.10 449.90,311.46 450.40,311.81 450.89,312.13 451.38,312.42 451.88,312.69 452.37,312.95 452.86,313.18 453.36,313.40 453.85,313.60 454.34,313.79 454.84,313.96 455.33,314.12 455.82,314.26 456.31,314.40 456.81,314.52 457.30,314.64 457.79,314.74 458.29,314.84 458.78,314.93 459.27,315.02 459.77,315.09 460.26,315.16 460.75,315.23 461.25,315.29 461.74,315.34 462.23,315.40 462.73,315.44 463.22,315.49 463.71,315.53 464.21,315.56 464.70,315.60 465.19,315.63 465.69,315.66 466.18,315.68 466.67,315.71 467.16,315.73 467.66,315.75 468.15,315.77 468.64,315.79 469.14,315.80 469.63,315.82 470.12,315.83 470.62,315.85 471.11,315.86 471.60,315.87 472.10,315.88 472.59,315.89 473.08,315.89 473.58,315.90 474.07,315.91 474.56,315.92 475.06,315.92 475.55,315.93 476.04,315.93 476.54,315.94 477.03,315.94 477.52,315.95 478.01,315.95 478.51,315.95 479.00,315.96 479.49,315.96 479.99,315.96 480.48,315.96 480.97,315.97 481.47,315.97 481.96,315.97 482.45,315.97 482.95,315.97 483.44,315.97 483.93,315.98 484.43,315.98 484.92,315.98 485.41,315.98 485.91,315.98 486.40,315.98 486.89,315.98 487.39,315.98 487.88,315.98 488.37,315.98 488.87,315.98 489.36,315.99 489.85,315.99 490.34,315.99 490.84,315.99 491.33,315.99 491.82,315.99 492.32,315.99 492.81,315.99 493.30,315.99 493.80,315.99 494.29,315.99 494.78,315.99 495.28,315.99 495.77,315.99 496.26,315.99 496.76,315.99" fill="none" stroke="#7c76a4" stroke-width="1.2" stroke-linejoin="round"/>
<polyline points="348.80,229.32 349.29,229.32 349.79,229.32 350.28,229.32 350.77,229.32 351.27,229.32 351.76,229.32 352.25,229.32 352.75,229.32 353.24,229.32 353.73,229.32 354.23,229.32 354.72,229.32 355.21,229.32 355.70,229.32 356.20,229.32 356.69,229.32 357.18,229.32 357.68,229.32 358.17,229.32 358.66,229.32 359.16,229.32 359.65,229.32 360.14,229.32 360.64,229.32 361.13,229.32 361.62,229.32 362.12,229.32 362.61,229.32 363.10,229.32 363.60,229.32 364.09,229.32 364.58,229.32 365.08,229.32 365.57,229.32 366.06,229.32 366.55,229.32 367.05,229.32 367.54,229.32 368.03,229.32 368.53,229.32 369.02,229.32 369.51,229.32 370.01,229.32 370.50,229.32 370.99,229.32 371.49,229.32 371.98,229.32 372.47,229.32 372.97,229.32 373.46,229.32 373.95,229.32 374.45,229.32 374.94,229.32 375.43,229.32 375.93,229.32 376.42,229.32 376.91,229.32 377.40,229.32 377.90,229.32 378.39,229.32 378.88,229.32 379.38,229.32 379.87,229.32 380.36,229.32 380.86,229.32 381.35,229.32 381.84,229.32 382.34,229.32 382.83,229.32 383.32,229.32 383.82,229.32 384.31,229.32 384.80,229.32 385.30,229.32 385.79,229.32 386.28,229.32 386.78,229.32 387.27,229.32 387.76,229.32 388.25,229.32 388.75,229.32 389.24,229.32 389.73,229.32 390.23,229.32 390.72,229.32 391.21,229.32 391.71,229.32 392.20,229.32 392.69,229.32 393.19,229.32 393.68,229.32 394.17,229.32 394.67,229.32 395.16,229.32 395.65,229.32 396.15,229.33 396.64,229.33 397.13,229.33 397.63,229.33 398.12,229.33 398.61,229.33 399.11,229.33 399.60,229.33 400.09,229.33 400.58,229.34 401.08,229.34 401.57,229.34 402.06,229.35 402.56,229.35 403.05,229.36 403.54,229.37 404.04,229.38 404.53,229.40 405.02,229.42 405.52,229.44 406.01,229.47 406.50,229.50 407.00,229.55 407.49,229.60 407.98,229.67 408.48,229.76 408.97,229.87 409.46,230.00 409.96,230.17 410.45,230.38 410.94,230.64 411.43,230.96 411.93,231.36 412.42,231.85 412.91,232.45 413.41,233.18 413.90,234.08 414.39,235.16 414.89,236.46 415.38,238.01 415.87,239.82 416.37,241.93 416.86,244.34 417.35,247.05 417.85,250.04 418.34,253.28 418.83,256.69 419.33,260.21 419.82,263.75 420.31,267.22 420.81,270.55 421.30,273.66 421.79,276.51 422.28,279.06 422.78,281.31 423.27,283.26 423.76,284.93 424.26,286.34 424.75,287.52 425.24,288.50 425.74,289.31 426.23,289.97 426.72,290.51 427.22,290.94 427.71,291.30 428.20,291.59 428.70,291.82 429.19,292.00 429.68,292.15 430.18,292.27 430.67,292.37 431.16,292.45 431.66,292.51 432.15,292.56 432.64,292.60 433.13,292.63 433.63,292.66 434.12,292.68 434.61,292.69 435.11,292.70 435.60,292.72 436.09,292.72 436.59,292.73 437.08,292.74 437.57,292.74 438.07,292.74 438.56,292.75 439.05,292.75 439.55,292.75 440.04,292.75 440.53,292.75 441.03,292.75 441.52,292.75 442.01,292.75 442.51,292.76 443.00,292.76 443.49,292.76 443.99,292.76 444.48,292.76 444.97,292.76 445.46,292.76 445.96,292.76 446.45,292.76 446.94,292.76 447.44,292.76 447.93,292.76 448.42,292.76 448.92,292.76 449.41,292.76 449.90,292.76 450.40,292.76 450.89,292.76 451.38,292.76 451.88,292.76 452.37,292.76 452.86,292.76 453.36,292.76 453.85,292.76 454.34,292.76 454.84,292.76 455.33,292.76 455.82,292.76 456.31,292.76 456.81,292.76 457.30,292.76 457.79,292.76 458.29,292.76 458.78,292.76 459.27,292.76 459.77,292.76 460.26,292.76 460.75,292.76 461.25,292.76 461.74,292.76 462.23,292.76 462.73,292.76 463.22,292.76 463.71,292.76 464.21,292.76 464.70,292.76 465.19,292.76 465.69,292.76 466.18,292.76 466.67,292.76 467.16,292.76 467.66,292.76 468.15,292.76 468.64,292.76 469.14,292.76 469.63,292.76 470.12,292.76 470.62,292.76 471.11,292.76 471.60,292.76 472.10,292.76 472.59,292.76 473.08,292.76 473.58,292.76 474.07,292.76 474.56,292.76 475.06,292.76 475.55,292.76 476.04,292.76 476.54,292.76 477.03,292.76 477.52,292.76 478.01,292.76 478.51,292.76 479.00,292.76 479.49,292.76 479.99,292.76 480.48,292.76 480.97,292.76 481.47,292.76 481.96,292.76 482.45,292.76 482.95,292.76 483.44,292.76 483.93,292.76 484.43,292.76 484.92,292.76 485.41,292.76 485.91,292.76 486.40,292.76 486.89,292.76 487.39,292.76 487.88,292.76 488.37,292.76 488.87,292.76 489.36,292.76 489.85,292.76 490.34,292.76 490.84,292.76 491.33,292.76 491.82,292.76 492.32,292.76 492.81,292.76 493.30,292.76 493.80,292.76 494.29,292.76 494.78,292.76 495.28,292.76 495.77,292.76 496.26,292.76 496.76,292.76" fill="none" stroke="#42b4e2" stroke-width="1.2" stroke-linejoin="round"/>
<circle cx="348.80" cy="229.60" r="2.2" fill="#8780b6"/>
<circle cx="402.32" cy="233.29" r="2.2" fill="#8780b6"/>
<circle cx="414.91" cy="225.91" r="2.2" fill="#8780b6"/>
<circle cx="424.35" cy="257.26" r="2.2" fill="#8780b6"/>
<circle cx="433.80" cy="267.40" r="2.2" fill="#8780b6"/>
<circle cx="443.24" cy="312.12" r="2.2" fill="#8780b6"/>
<circle cx="455.83" cy="315.35" r="2.2" fill="#8780b6"/>
<circle cx="465.28" cy="315.35" r="2.2" fill="#8780b6"/>
<circle cx="474.72" cy="315.35" r="2.2" fill="#8780b6"/>
<circle cx="487.31" cy="315.16" r="2.2" fill="#8780b6"/>
<circle cx="496.76" cy="315.16" r="2.2" fill="#8780b6"/>
<rect x="346.70" y="227.50" width="4.2" height="4.2" fill="#5d6fb0"/>
<rect x="390.77" y="225.66" width="4.2" height="4.2" fill="#2d93c6"/>
<rect x="400.22" y="227.50" width="4.2" height="4.2" fill="#2d93c6"/>
<rect x="412.81" y="236.72" width="4.2" height="4.2" fill="#2d93c6"/>
<rect x="422.25" y="282.36" width="4.2" height="4.2" fill="#2d93c6"/>
<rect x="431.70" y="294.81" width="4.2" height="4.2" fill="#2d93c6"/>
<rect x="441.14" y="286.97" width="4.2" height="4.2" fill="#2d93c6"/>
<rect x="453.73" y="288.35" width="4.2" height="4.2" fill="#2d93c6"/>
<rect x="463.18" y="290.20" width="4.2" height="4.2" fill="#2d93c6"/>
<rect x="472.62" y="291.12" width="4.2" height="4.2" fill="#2d93c6"/>
<rect x="485.21" y="291.58" width="4.2" height="4.2" fill="#2d93c6"/>
<rect x="494.66" y="292.96" width="4.2" height="4.2" fill="#2d93c6"/>
<line x1="434.4" y1="218.3" x2="448.9" y2="218.3" stroke="#7c76a4" stroke-width="1.3"/>
<circle cx="441.70" cy="218.30" r="2.2" fill="#8780b6"/>
<text class="r" x="452.40" y="221.30" font-size="8.2" text-anchor="start" font-weight="normal" fill="#2a2a2a" >No Drug</text>
<line x1="434.4" y1="229.8" x2="448.9" y2="229.8" stroke="#42b4e2" stroke-width="1.3"/>
<rect x="439.60" y="227.70" width="4.2" height="4.2" fill="#2d93c6"/>
<text class="r" x="452.40" y="232.80" font-size="8.2" text-anchor="start" font-weight="normal" fill="#2a2a2a" >Doxycycline</text>
<line x1="66.9" y1="382.2" x2="66.9" y2="501.0" stroke="#222" stroke-width="1.2"/>
<line x1="66.30000000000001" y1="500.4" x2="243.7" y2="500.4" stroke="#222" stroke-width="1.2"/>
<line x1="63.50000000000001" y1="385.0" x2="66.9" y2="385.0" stroke="#222" stroke-width="1"/>
<text class="r" x="58.90" y="388.42" font-size="9.5" text-anchor="end" font-weight="normal" fill="#222" >1.25</text>
<line x1="63.50000000000001" y1="408.1" x2="66.9" y2="408.1" stroke="#222" stroke-width="1"/>
<text class="r" x="58.90" y="411.50" font-size="9.5" text-anchor="end" font-weight="normal" fill="#222" >1.00</text>
<line x1="63.50000000000001" y1="431.2" x2="66.9" y2="431.2" stroke="#222" stroke-width="1"/>
<text class="r" x="58.90" y="434.57" font-size="9.5" text-anchor="end" font-weight="normal" fill="#222" >0.75</text>
<line x1="63.50000000000001" y1="454.2" x2="66.9" y2="454.2" stroke="#222" stroke-width="1"/>
<text class="r" x="58.90" y="457.65" font-size="9.5" text-anchor="end" font-weight="normal" fill="#222" >0.50</text>
<line x1="63.50000000000001" y1="477.3" x2="66.9" y2="477.3" stroke="#222" stroke-width="1"/>
<text class="r" x="58.90" y="480.72" font-size="9.5" text-anchor="end" font-weight="normal" fill="#222" >0.25</text>
<line x1="63.50000000000001" y1="500.4" x2="66.9" y2="500.4" stroke="#222" stroke-width="1"/>
<text class="r" x="58.90" y="503.80" font-size="9.5" text-anchor="end" font-weight="normal" fill="#222" >0.00</text>
<line x1="82.7" y1="500.4" x2="82.7" y2="504.0" stroke="#222" stroke-width="1"/>
<text class="r" x="82.70" y="517.30" font-size="10" text-anchor="middle" font-weight="normal" fill="#222" >&#8722;10</text>
<line x1="114.2" y1="500.4" x2="114.2" y2="504.0" stroke="#222" stroke-width="1"/>
<text class="r" x="114.18" y="517.30" font-size="10" text-anchor="middle" font-weight="normal" fill="#222" >&#8722;9</text>
<line x1="145.7" y1="500.4" x2="145.7" y2="504.0" stroke="#222" stroke-width="1"/>
<text class="r" x="145.66" y="517.30" font-size="10" text-anchor="middle" font-weight="normal" fill="#222" >&#8722;8</text>
<line x1="177.1" y1="500.4" x2="177.1" y2="504.0" stroke="#222" stroke-width="1"/>
<text class="r" x="177.14" y="517.30" font-size="10" text-anchor="middle" font-weight="normal" fill="#222" >&#8722;7</text>
<line x1="208.6" y1="500.4" x2="208.6" y2="504.0" stroke="#222" stroke-width="1"/>
<text class="r" x="208.62" y="517.30" font-size="10" text-anchor="middle" font-weight="normal" fill="#222" >&#8722;6</text>
<line x1="240.1" y1="500.4" x2="240.1" y2="504.0" stroke="#222" stroke-width="1"/>
<text class="r" x="240.10" y="517.30" font-size="10" text-anchor="middle" font-weight="normal" fill="#222" >&#8722;5</text>
<text x="0" y="0" font-size="10" text-anchor="middle" fill="#222" stroke="#222" stroke-width="0.25" transform="translate(155.3 531.7) scale(0.835 1)">log[MTX], M</text>
<text x="0" y="0" font-size="9.2" text-anchor="middle" fill="#222" stroke="#222" stroke-width="0.25" transform="translate(32.9 433.3) rotate(-90) scale(0.78 1)">Relative viability</text>
<text class="r" x="70.80" y="492.70" font-size="10" text-anchor="start" font-weight="normal" fill="#2a2a2a" >REH</text>
<polyline points="82.70,408.10 83.19,408.10 83.69,408.10 84.18,408.10 84.67,408.10 85.17,408.10 85.66,408.10 86.15,408.10 86.65,408.10 87.14,408.10 87.63,408.10 88.13,408.10 88.62,408.10 89.11,408.10 89.60,408.10 90.10,408.10 90.59,408.10 91.08,408.10 91.58,408.10 92.07,408.10 92.56,408.10 93.06,408.11 93.55,408.11 94.04,408.11 94.54,408.11 95.03,408.11 95.52,408.11 96.02,408.11 96.51,408.11 97.00,408.11 97.50,408.11 97.99,408.11 98.48,408.11 98.98,408.11 99.47,408.11 99.96,408.12 100.45,408.12 100.95,408.12 101.44,408.12 101.93,408.12 102.43,408.12 102.92,408.13 103.41,408.13 103.91,408.13 104.40,408.13 104.89,408.14 105.39,408.14 105.88,408.14 106.37,408.15 106.87,408.15 107.36,408.15 107.85,408.16 108.35,408.16 108.84,408.17 109.33,408.18 109.83,408.18 110.32,408.19 110.81,408.20 111.30,408.20 111.80,408.21 112.29,408.22 112.78,408.23 113.28,408.24 113.77,408.26 114.26,408.27 114.76,408.28 115.25,408.30 115.74,408.32 116.24,408.34 116.73,408.36 117.22,408.38 117.72,408.40 118.21,408.43 118.70,408.45 119.20,408.48 119.69,408.51 120.18,408.55 120.68,408.59 121.17,408.63 121.66,408.67 122.15,408.72 122.65,408.77 123.14,408.83 123.63,408.89 124.13,408.96 124.62,409.03 125.11,409.11 125.61,409.19 126.10,409.28 126.59,409.38 127.09,409.49 127.58,409.60 128.07,409.73 128.57,409.86 129.06,410.01 129.55,410.16 130.05,410.33 130.54,410.52 131.03,410.72 131.53,410.93 132.02,411.16 132.51,411.41 133.01,411.68 133.50,411.97 133.99,412.28 134.48,412.62 134.98,412.98 135.47,413.36 135.96,413.78 136.46,414.23 136.95,414.71 137.44,415.22 137.94,415.77 138.43,416.36 138.92,416.98 139.42,417.65 139.91,418.37 140.40,419.13 140.90,419.93 141.39,420.79 141.88,421.70 142.38,422.65 142.87,423.67 143.36,424.73 143.86,425.86 144.35,427.04 144.84,428.27 145.33,429.56 145.83,430.90 146.32,432.30 146.81,433.75 147.31,435.25 147.80,436.80 148.29,438.39 148.79,440.02 149.28,441.69 149.77,443.39 150.27,445.11 150.76,446.86 151.25,448.63 151.75,450.41 152.24,452.19 152.73,453.98 153.23,455.76 153.72,457.52 154.21,459.27 154.71,460.99 155.20,462.69 155.69,464.35 156.18,465.98 156.68,467.57 157.17,469.11 157.66,470.60 158.16,472.04 158.65,473.43 159.14,474.77 159.64,476.05 160.13,477.28 160.62,478.45 161.12,479.57 161.61,480.63 162.10,481.63 162.60,482.59 163.09,483.49 163.58,484.34 164.08,485.14 164.57,485.89 165.06,486.60 165.56,487.26 166.05,487.88 166.54,488.47 167.03,489.01 167.53,489.52 168.02,489.99 168.51,490.44 169.01,490.85 169.50,491.23 169.99,491.59 170.49,491.92 170.98,492.23 171.47,492.52 171.97,492.78 172.46,493.03 172.95,493.26 173.45,493.47 173.94,493.67 174.43,493.85 174.93,494.02 175.42,494.17 175.91,494.32 176.41,494.45 176.90,494.58 177.39,494.69 177.89,494.79 178.38,494.89 178.87,494.98 179.36,495.07 179.86,495.14 180.35,495.21 180.84,495.28 181.34,495.34 181.83,495.40 182.32,495.45 182.82,495.49 183.31,495.54 183.80,495.58 184.30,495.62 184.79,495.65 185.28,495.68 185.78,495.71 186.27,495.74 186.76,495.76 187.26,495.79 187.75,495.81 188.24,495.83 188.74,495.85 189.23,495.86 189.72,495.88 190.21,495.89 190.71,495.91 191.20,495.92 191.69,495.93 192.19,495.94 192.68,495.95 193.17,495.96 193.67,495.97 194.16,495.97 194.65,495.98 195.15,495.99 195.64,495.99 196.13,496.00 196.63,496.00 197.12,496.01 197.61,496.01 198.11,496.02 198.60,496.02 199.09,496.02 199.59,496.03 200.08,496.03 200.57,496.03 201.06,496.03 201.56,496.04 202.05,496.04 202.54,496.04 203.04,496.04 203.53,496.04 204.02,496.04 204.52,496.05 205.01,496.05 205.50,496.05 206.00,496.05 206.49,496.05 206.98,496.05 207.48,496.05 207.97,496.05 208.46,496.05 208.96,496.05 209.45,496.05 209.94,496.06 210.44,496.06 210.93,496.06 211.42,496.06 211.91,496.06 212.41,496.06 212.90,496.06 213.39,496.06 213.89,496.06 214.38,496.06 214.87,496.06 215.37,496.06 215.86,496.06 216.35,496.06 216.85,496.06 217.34,496.06 217.83,496.06 218.33,496.06 218.82,496.06 219.31,496.06 219.81,496.06 220.30,496.06 220.79,496.06 221.29,496.06 221.78,496.06 222.27,496.06 222.77,496.06 223.26,496.06 223.75,496.06 224.24,496.06 224.74,496.06 225.23,496.06 225.72,496.06 226.22,496.06 226.71,496.06 227.20,496.06 227.70,496.06 228.19,496.06 228.68,496.06 229.18,496.06 229.67,496.06 230.16,496.06 230.66,496.06" fill="none" stroke="#7c76a4" stroke-width="1.2" stroke-linejoin="round"/>
<polyline points="82.70,408.38 83.19,408.38 83.69,408.38 84.18,408.38 84.67,408.38 85.17,408.38 85.66,408.38 86.15,408.38 86.65,408.38 87.14,408.38 87.63,408.38 88.13,408.38 88.62,408.38 89.11,408.38 89.60,408.38 90.10,408.38 90.59,408.38 91.08,408.38 91.58,408.38 92.07,408.38 92.56,408.38 93.06,408.38 93.55,408.38 94.04,408.38 94.54,408.38 95.03,408.38 95.52,408.38 96.02,408.38 96.51,408.38 97.00,408.38 97.50,408.38 97.99,408.38 98.48,408.38 98.98,408.38 99.47,408.38 99.96,408.38 100.45,408.38 100.95,408.38 101.44,408.38 101.93,408.38 102.43,408.38 102.92,408.38 103.41,408.38 103.91,408.38 104.40,408.38 104.89,408.38 105.39,408.38 105.88,408.38 106.37,408.38 106.87,408.38 107.36,408.38 107.85,408.38 108.35,408.38 108.84,408.38 109.33,408.38 109.83,408.38 110.32,408.38 110.81,408.38 111.30,408.38 111.80,408.38 112.29,408.38 112.78,408.38 113.28,408.38 113.77,408.38 114.26,408.38 114.76,408.38 115.25,408.38 115.74,408.38 116.24,408.38 116.73,408.38 117.22,408.38 117.72,408.38 118.21,408.38 118.70,408.38 119.20,408.38 119.69,408.38 120.18,408.38 120.68,408.38 121.17,408.38 121.66,408.38 122.15,408.38 122.65,408.38 123.14,408.38 123.63,408.38 124.13,408.38 124.62,408.38 125.11,408.38 125.61,408.38 126.10,408.38 126.59,408.38 127.09,408.38 127.58,408.38 128.07,408.38 128.57,408.38 129.06,408.38 129.55,408.38 130.05,408.38 130.54,408.38 131.03,408.38 131.53,408.38 132.02,408.38 132.51,408.38 133.01,408.38 133.50,408.38 133.99,408.38 134.48,408.38 134.98,408.38 135.47,408.38 135.96,408.38 136.46,408.38 136.95,408.38 137.44,408.38 137.94,408.38 138.43,408.38 138.92,408.38 139.42,408.38 139.91,408.38 140.40,408.39 140.90,408.40 141.39,408.41 141.88,408.44 142.38,408.48 142.87,408.56 143.36,408.71 143.86,408.97 144.35,409.42 144.84,410.21 145.33,411.57 145.83,413.85 146.32,417.53 146.81,423.05 147.31,430.59 147.80,439.58 148.29,448.76 148.79,456.75 149.28,462.80 149.77,466.91 150.27,469.50 150.76,471.06 151.25,471.97 151.75,472.49 152.24,472.79 152.73,472.96 153.23,473.05 153.72,473.10 154.21,473.13 154.71,473.15 155.20,473.16 155.69,473.16 156.18,473.17 156.68,473.17 157.17,473.17 157.66,473.17 158.16,473.17 158.65,473.17 159.14,473.17 159.64,473.17 160.13,473.17 160.62,473.17 161.12,473.17 161.61,473.17 162.10,473.17 162.60,473.17 163.09,473.17 163.58,473.17 164.08,473.17 164.57,473.17 165.06,473.17 165.56,473.17 166.05,473.17 166.54,473.17 167.03,473.17 167.53,473.17 168.02,473.17 168.51,473.17 169.01,473.17 169.50,473.17 169.99,473.17 170.49,473.17 170.98,473.17 171.47,473.17 171.97,473.17 172.46,473.17 172.95,473.17 173.45,473.17 173.94,473.17 174.43,473.17 174.93,473.17 175.42,473.17 175.91,473.17 176.41,473.17 176.90,473.17 177.39,473.17 177.89,473.17 178.38,473.17 178.87,473.17 179.36,473.17 179.86,473.17 180.35,473.17 180.84,473.17 181.34,473.17 181.83,473.17 182.32,473.17 182.82,473.17 183.31,473.17 183.80,473.17 184.30,473.17 184.79,473.17 185.28,473.17 185.78,473.17 186.27,473.17 186.76,473.17 187.26,473.17 187.75,473.17 188.24,473.17 188.74,473.17 189.23,473.17 189.72,473.17 190.21,473.17 190.71,473.17 191.20,473.17 191.69,473.17 192.19,473.17 192.68,473.17 193.17,473.17 193.67,473.17 194.16,473.17 194.65,473.17 195.15,473.17 195.64,473.17 196.13,473.17 196.63,473.17 197.12,473.17 197.61,473.17 198.11,473.17 198.60,473.17 199.09,473.17 199.59,473.17 200.08,473.17 200.57,473.17 201.06,473.17 201.56,473.17 202.05,473.17 202.54,473.17 203.04,473.17 203.53,473.17 204.02,473.17 204.52,473.17 205.01,473.17 205.50,473.17 206.00,473.17 206.49,473.17 206.98,473.17 207.48,473.17 207.97,473.17 208.46,473.17 208.96,473.17 209.45,473.17 209.94,473.17 210.44,473.17 210.93,473.17 211.42,473.17 211.91,473.17 212.41,473.17 212.90,473.17 213.39,473.17 213.89,473.17 214.38,473.17 214.87,473.17 215.37,473.17 215.86,473.17 216.35,473.17 216.85,473.17 217.34,473.17 217.83,473.17 218.33,473.17 218.82,473.17 219.31,473.17 219.81,473.17 220.30,473.17 220.79,473.17 221.29,473.17 221.78,473.17 222.27,473.17 222.77,473.17 223.26,473.17 223.75,473.17 224.24,473.17 224.74,473.17 225.23,473.17 225.72,473.17 226.22,473.17 226.71,473.17 227.20,473.17 227.70,473.17 228.19,473.17 228.68,473.17 229.18,473.17 229.67,473.17 230.16,473.17 230.66,473.17" fill="none" stroke="#42b4e2" stroke-width="1.2" stroke-linejoin="round"/>
<circle cx="82.70" cy="408.10" r="2.2" fill="#8780b6"/>
<circle cx="126.77" cy="410.87" r="2.2" fill="#8780b6"/>
<circle cx="136.22" cy="410.87" r="2.2" fill="#8780b6"/>
<circle cx="148.81" cy="438.10" r="2.2" fill="#8780b6"/>
<circle cx="158.25" cy="475.02" r="2.2" fill="#8780b6"/>
<circle cx="177.14" cy="494.86" r="2.2" fill="#8780b6"/>
<circle cx="189.73" cy="495.78" r="2.2" fill="#8780b6"/>
<circle cx="199.18" cy="495.78" r="2.2" fill="#8780b6"/>
<circle cx="208.62" cy="495.78" r="2.2" fill="#8780b6"/>
<circle cx="221.21" cy="495.78" r="2.2" fill="#8780b6"/>
<circle cx="230.66" cy="495.78" r="2.2" fill="#8780b6"/>
<rect x="80.60" y="406.00" width="4.2" height="4.2" fill="#5d78b0"/>
<rect x="124.67" y="407.38" width="4.2" height="4.2" fill="#2d93c6"/>
<rect x="134.12" y="407.38" width="4.2" height="4.2" fill="#2d93c6"/>
<rect x="146.71" y="455.84" width="4.2" height="4.2" fill="#2d93c6"/>
<rect x="156.15" y="481.69" width="4.2" height="4.2" fill="#2d93c6"/>
<rect x="165.60" y="473.56" width="4.2" height="4.2" fill="#5d78b0"/>
<rect x="175.04" y="469.23" width="4.2" height="4.2" fill="#2d93c6"/>
<rect x="187.63" y="468.76" width="4.2" height="4.2" fill="#2d93c6"/>
<rect x="197.08" y="468.76" width="4.2" height="4.2" fill="#2d93c6"/>
<rect x="206.52" y="468.76" width="4.2" height="4.2" fill="#2d93c6"/>
<rect x="219.11" y="468.30" width="4.2" height="4.2" fill="#2d93c6"/>
<rect x="228.56" y="467.38" width="4.2" height="4.2" fill="#2d93c6"/>
<line x1="164.5" y1="396.2" x2="179.0" y2="396.2" stroke="#7c76a4" stroke-width="1.3"/>
<circle cx="171.80" cy="396.20" r="2.2" fill="#8780b6"/>
<text class="r" x="182.50" y="399.20" font-size="8.2" text-anchor="start" font-weight="normal" fill="#2a2a2a" >No Drug</text>
<line x1="164.5" y1="408.0" x2="179.0" y2="408.0" stroke="#42b4e2" stroke-width="1.3"/>
<rect x="169.70" y="405.90" width="4.2" height="4.2" fill="#2d93c6"/>
<text class="r" x="182.50" y="411.00" font-size="8.2" text-anchor="start" font-weight="normal" fill="#2a2a2a" >Doxycycline</text>
<line x1="332.8" y1="382.2" x2="332.8" y2="501.0" stroke="#222" stroke-width="1.2"/>
<line x1="332.2" y1="500.4" x2="509.6" y2="500.4" stroke="#222" stroke-width="1.2"/>
<line x1="329.40000000000003" y1="385.0" x2="332.8" y2="385.0" stroke="#222" stroke-width="1"/>
<text class="r" x="324.80" y="388.42" font-size="9.5" text-anchor="end" font-weight="normal" fill="#222" >1.25</text>
<line x1="329.40000000000003" y1="408.1" x2="332.8" y2="408.1" stroke="#222" stroke-width="1"/>
<text class="r" x="324.80" y="411.50" font-size="9.5" text-anchor="end" font-weight="normal" fill="#222" >1.00</text>
<line x1="329.40000000000003" y1="431.2" x2="332.8" y2="431.2" stroke="#222" stroke-width="1"/>
<text class="r" x="324.80" y="434.57" font-size="9.5" text-anchor="end" font-weight="normal" fill="#222" >0.75</text>
<line x1="329.40000000000003" y1="454.2" x2="332.8" y2="454.2" stroke="#222" stroke-width="1"/>
<text class="r" x="324.80" y="457.65" font-size="9.5" text-anchor="end" font-weight="normal" fill="#222" >0.50</text>
<line x1="329.40000000000003" y1="477.3" x2="332.8" y2="477.3" stroke="#222" stroke-width="1"/>
<text class="r" x="324.80" y="480.72" font-size="9.5" text-anchor="end" font-weight="normal" fill="#222" >0.25</text>
<line x1="329.40000000000003" y1="500.4" x2="332.8" y2="500.4" stroke="#222" stroke-width="1"/>
<text class="r" x="324.80" y="503.80" font-size="9.5" text-anchor="end" font-weight="normal" fill="#222" >0.00</text>
<line x1="348.8" y1="500.4" x2="348.8" y2="504.0" stroke="#222" stroke-width="1"/>
<text class="r" x="348.80" y="517.30" font-size="10" text-anchor="middle" font-weight="normal" fill="#222" >&#8722;10</text>
<line x1="380.3" y1="500.4" x2="380.3" y2="504.0" stroke="#222" stroke-width="1"/>
<text class="r" x="380.28" y="517.30" font-size="10" text-anchor="middle" font-weight="normal" fill="#222" >&#8722;9</text>
<line x1="411.8" y1="500.4" x2="411.8" y2="504.0" stroke="#222" stroke-width="1"/>
<text class="r" x="411.76" y="517.30" font-size="10" text-anchor="middle" font-weight="normal" fill="#222" >&#8722;8</text>
<line x1="443.2" y1="500.4" x2="443.2" y2="504.0" stroke="#222" stroke-width="1"/>
<text class="r" x="443.24" y="517.30" font-size="10" text-anchor="middle" font-weight="normal" fill="#222" >&#8722;7</text>
<line x1="474.7" y1="500.4" x2="474.7" y2="504.0" stroke="#222" stroke-width="1"/>
<text class="r" x="474.72" y="517.30" font-size="10" text-anchor="middle" font-weight="normal" fill="#222" >&#8722;6</text>
<line x1="506.2" y1="500.4" x2="506.2" y2="504.0" stroke="#222" stroke-width="1"/>
<text class="r" x="506.20" y="517.30" font-size="10" text-anchor="middle" font-weight="normal" fill="#222" >&#8722;5</text>
<text x="0" y="0" font-size="10" text-anchor="middle" fill="#222" stroke="#222" stroke-width="0.25" transform="translate(421.7 531.7) scale(0.835 1)">log[MTX], M</text>
<text x="0" y="0" font-size="9.2" text-anchor="middle" fill="#222" stroke="#222" stroke-width="0.25" transform="translate(298.2 433.6) rotate(-90) scale(0.78 1)">Relative viability</text>
<text class="r" x="337.30" y="492.70" font-size="10" text-anchor="start" font-weight="normal" fill="#2a2a2a" >Jurkat</text>
<polyline points="348.80,408.84 349.29,408.84 349.79,408.84 350.28,408.84 350.77,408.84 351.27,408.85 351.76,408.85 352.25,408.85 352.75,408.85 353.24,408.85 353.73,408.85 354.23,408.85 354.72,408.85 355.21,408.85 355.70,408.85 356.20,408.85 356.69,408.85 357.18,408.85 357.68,408.85 358.17,408.86 358.66,408.86 359.16,408.86 359.65,408.86 360.14,408.86 360.64,408.86 361.13,408.86 361.62,408.86 362.12,408.87 362.61,408.87 363.10,408.87 363.60,408.87 364.09,408.87 364.58,408.88 365.08,408.88 365.57,408.88 366.06,408.89 366.55,408.89 367.05,408.89 367.54,408.90 368.03,408.90 368.53,408.90 369.02,408.91 369.51,408.91 370.01,408.92 370.50,408.92 370.99,408.93 371.49,408.93 371.98,408.94 372.47,408.95 372.97,408.95 373.46,408.96 373.95,408.97 374.45,408.98 374.94,408.99 375.43,409.00 375.93,409.01 376.42,409.02 376.91,409.03 377.40,409.04 377.90,409.06 378.39,409.07 378.88,409.09 379.38,409.10 379.87,409.12 380.36,409.14 380.86,409.16 381.35,409.18 381.84,409.21 382.34,409.23 382.83,409.26 383.32,409.28 383.82,409.31 384.31,409.34 384.80,409.38 385.30,409.41 385.79,409.45 386.28,409.49 386.78,409.53 387.27,409.58 387.76,409.63 388.25,409.68 388.75,409.73 389.24,409.79 389.73,409.86 390.23,409.92 390.72,409.99 391.21,410.07 391.71,410.15 392.20,410.23 392.69,410.33 393.19,410.42 393.68,410.53 394.17,410.64 394.67,410.75 395.16,410.88 395.65,411.01 396.15,411.15 396.64,411.30 397.13,411.45 397.63,411.62 398.12,411.80 398.61,411.99 399.11,412.19 399.60,412.41 400.09,412.63 400.58,412.87 401.08,413.13 401.57,413.40 402.06,413.68 402.56,413.98 403.05,414.30 403.54,414.64 404.04,415.00 404.53,415.38 405.02,415.78 405.52,416.20 406.01,416.64 406.50,417.11 407.00,417.60 407.49,418.12 407.98,418.67 408.48,419.24 408.97,419.85 409.46,420.48 409.96,421.14 410.45,421.84 410.94,422.56 411.43,423.32 411.93,424.12 412.42,424.94 412.91,425.80 413.41,426.70 413.90,427.63 414.39,428.59 414.89,429.59 415.38,430.63 415.87,431.69 416.37,432.79 416.86,433.93 417.35,435.09 417.85,436.28 418.34,437.51 418.83,438.76 419.33,440.03 419.82,441.33 420.31,442.66 420.81,444.00 421.30,445.35 421.79,446.73 422.28,448.11 422.78,449.50 423.27,450.90 423.76,452.30 424.26,453.71 424.75,455.11 425.24,456.50 425.74,457.89 426.23,459.27 426.72,460.63 427.22,461.97 427.71,463.30 428.20,464.61 428.70,465.89 429.19,467.15 429.68,468.39 430.18,469.59 430.67,470.77 431.16,471.91 431.66,473.02 432.15,474.10 432.64,475.14 433.13,476.15 433.63,477.13 434.12,478.07 434.61,478.98 435.11,479.85 435.60,480.69 436.09,481.49 436.59,482.27 437.08,483.00 437.57,483.71 438.07,484.38 438.56,485.03 439.05,485.64 439.55,486.22 440.04,486.78 440.53,487.31 441.03,487.81 441.52,488.29 442.01,488.74 442.51,489.17 443.00,489.57 443.49,489.96 443.99,490.32 444.48,490.67 444.97,491.00 445.46,491.30 445.96,491.59 446.45,491.87 446.94,492.13 447.44,492.37 447.93,492.60 448.42,492.82 448.92,493.03 449.41,493.22 449.90,493.40 450.40,493.57 450.89,493.74 451.38,493.89 451.88,494.03 452.37,494.16 452.86,494.29 453.36,494.41 453.85,494.52 454.34,494.63 454.84,494.73 455.33,494.82 455.82,494.91 456.31,494.99 456.81,495.07 457.30,495.14 457.79,495.21 458.29,495.27 458.78,495.33 459.27,495.39 459.77,495.44 460.26,495.49 460.75,495.54 461.25,495.58 461.74,495.62 462.23,495.66 462.73,495.70 463.22,495.73 463.71,495.76 464.21,495.79 464.70,495.82 465.19,495.85 465.69,495.87 466.18,495.89 466.67,495.92 467.16,495.94 467.66,495.96 468.15,495.97 468.64,495.99 469.14,496.01 469.63,496.02 470.12,496.04 470.62,496.05 471.11,496.06 471.60,496.07 472.10,496.08 472.59,496.09 473.08,496.10 473.58,496.11 474.07,496.12 474.56,496.13 475.06,496.14 475.55,496.14 476.04,496.15 476.54,496.15 477.03,496.16 477.52,496.17 478.01,496.17 478.51,496.18 479.00,496.18 479.49,496.18 479.99,496.19 480.48,496.19 480.97,496.20 481.47,496.20 481.96,496.20 482.45,496.20 482.95,496.21 483.44,496.21 483.93,496.21 484.43,496.21 484.92,496.22 485.41,496.22 485.91,496.22 486.40,496.22 486.89,496.22 487.39,496.22 487.88,496.23 488.37,496.23 488.87,496.23 489.36,496.23 489.85,496.23 490.34,496.23 490.84,496.23 491.33,496.23 491.82,496.23 492.32,496.23 492.81,496.24 493.30,496.24 493.80,496.24 494.29,496.24 494.78,496.24 495.28,496.24 495.77,496.24 496.26,496.24 496.76,496.24" fill="none" stroke="#7c76a4" stroke-width="1.2" stroke-linejoin="round"/>
<polyline points="348.80,406.99 349.29,406.99 349.79,406.99 350.28,406.99 350.77,406.99 351.27,406.99 351.76,406.99 352.25,406.99 352.75,406.99 353.24,406.99 353.73,406.99 354.23,406.99 354.72,406.99 355.21,406.99 355.70,406.99 356.20,406.99 356.69,406.99 357.18,406.99 357.68,406.99 358.17,406.99 358.66,406.99 359.16,406.99 359.65,406.99 360.14,406.99 360.64,406.99 361.13,406.99 361.62,406.99 362.12,406.99 362.61,406.99 363.10,406.99 363.60,406.99 364.09,406.99 364.58,406.99 365.08,406.99 365.57,406.99 366.06,406.99 366.55,406.99 367.05,406.99 367.54,406.99 368.03,406.99 368.53,406.99 369.02,406.99 369.51,406.99 370.01,406.99 370.50,406.99 370.99,406.99 371.49,406.99 371.98,406.99 372.47,406.99 372.97,406.99 373.46,406.99 373.95,406.99 374.45,406.99 374.94,406.99 375.43,406.99 375.93,406.99 376.42,406.99 376.91,406.99 377.40,406.99 377.90,406.99 378.39,406.99 378.88,406.99 379.38,406.99 379.87,406.99 380.36,406.99 380.86,406.99 381.35,406.99 381.84,406.99 382.34,406.99 382.83,406.99 383.32,406.99 383.82,406.99 384.31,406.99 384.80,406.99 385.30,406.99 385.79,406.99 386.28,406.99 386.78,406.99 387.27,406.99 387.76,406.99 388.25,406.99 388.75,406.99 389.24,406.99 389.73,406.99 390.23,406.99 390.72,406.99 391.21,406.99 391.71,406.99 392.20,406.99 392.69,406.99 393.19,406.99 393.68,406.99 394.17,406.99 394.67,406.99 395.16,406.99 395.65,406.99 396.15,406.99 396.64,406.99 397.13,406.99 397.63,406.99 398.12,406.99 398.61,406.99 399.11,406.99 399.60,406.99 400.09,406.99 400.58,406.99 401.08,406.99 401.57,406.99 402.06,406.99 402.56,406.99 403.05,406.99 403.54,406.99 404.04,406.99 404.53,406.99 405.02,406.99 405.52,406.99 406.01,406.99 406.50,406.99 407.00,406.99 407.49,407.00 407.98,407.00 408.48,407.00 408.97,407.01 409.46,407.03 409.96,407.06 410.45,407.11 410.94,407.20 411.43,407.35 411.93,407.63 412.42,408.12 412.91,408.97 413.41,410.41 413.90,412.78 414.39,416.50 414.89,421.84 415.38,428.70 415.87,436.29 416.37,443.45 416.86,449.25 417.35,453.40 417.85,456.10 418.34,457.77 418.83,458.75 419.33,459.32 419.82,459.64 420.31,459.83 420.81,459.93 421.30,459.99 421.79,460.02 422.28,460.04 422.78,460.05 423.27,460.06 423.76,460.06 424.26,460.06 424.75,460.06 425.24,460.06 425.74,460.06 426.23,460.06 426.72,460.06 427.22,460.06 427.71,460.06 428.20,460.06 428.70,460.06 429.19,460.06 429.68,460.06 430.18,460.06 430.67,460.06 431.16,460.06 431.66,460.06 432.15,460.06 432.64,460.06 433.13,460.06 433.63,460.06 434.12,460.06 434.61,460.06 435.11,460.06 435.60,460.06 436.09,460.06 436.59,460.06 437.08,460.06 437.57,460.06 438.07,460.06 438.56,460.06 439.05,460.06 439.55,460.06 440.04,460.06 440.53,460.06 441.03,460.06 441.52,460.06 442.01,460.06 442.51,460.06 443.00,460.06 443.49,460.06 443.99,460.06 444.48,460.06 444.97,460.06 445.46,460.06 445.96,460.06 446.45,460.06 446.94,460.06 447.44,460.06 447.93,460.06 448.42,460.06 448.92,460.06 449.41,460.06 449.90,460.06 450.40,460.06 450.89,460.06 451.38,460.06 451.88,460.06 452.37,460.06 452.86,460.06 453.36,460.06 453.85,460.06 454.34,460.06 454.84,460.06 455.33,460.06 455.82,460.06 456.31,460.06 456.81,460.06 457.30,460.06 457.79,460.06 458.29,460.06 458.78,460.06 459.27,460.06 459.77,460.06 460.26,460.06 460.75,460.06 461.25,460.06 461.74,460.06 462.23,460.06 462.73,460.06 463.22,460.06 463.71,460.06 464.21,460.06 464.70,460.06 465.19,460.06 465.69,460.06 466.18,460.06 466.67,460.06 467.16,460.06 467.66,460.06 468.15,460.06 468.64,460.06 469.14,460.06 469.63,460.06 470.12,460.06 470.62,460.06 471.11,460.06 471.60,460.06 472.10,460.06 472.59,460.06 473.08,460.06 473.58,460.06 474.07,460.06 474.56,460.06 475.06,460.06 475.55,460.06 476.04,460.06 476.54,460.06 477.03,460.06 477.52,460.06 478.01,460.06 478.51,460.06 479.00,460.06 479.49,460.06 479.99,460.06 480.48,460.06 480.97,460.06 481.47,460.06 481.96,460.06 482.45,460.06 482.95,460.06 483.44,460.06 483.93,460.06 484.43,460.06 484.92,460.06 485.41,460.06 485.91,460.06 486.40,460.06 486.89,460.06 487.39,460.06 487.88,460.06 488.37,460.06 488.87,460.06 489.36,460.06 489.85,460.06 490.34,460.06 490.84,460.06 491.33,460.06 491.82,460.06 492.32,460.06 492.81,460.06 493.30,460.06 493.80,460.06 494.29,460.06 494.78,460.06 495.28,460.06 495.77,460.06 496.26,460.06 496.76,460.06" fill="none" stroke="#42b4e2" stroke-width="1.2" stroke-linejoin="round"/>
<line x1="348.80" y1="393.79" x2="348.80" y2="422.41" stroke="#a9a2c8" stroke-width="0.9"/>
<line x1="346.20" y1="393.79" x2="351.40" y2="393.79" stroke="#a9a2c8" stroke-width="0.9"/>
<line x1="346.20" y1="422.41" x2="351.40" y2="422.41" stroke="#a9a2c8" stroke-width="0.9"/>
<line x1="392.87" y1="401.27" x2="392.87" y2="431.73" stroke="#a9a2c8" stroke-width="0.9"/>
<line x1="390.27" y1="401.27" x2="395.47" y2="401.27" stroke="#a9a2c8" stroke-width="0.9"/>
<line x1="390.27" y1="431.73" x2="395.47" y2="431.73" stroke="#a9a2c8" stroke-width="0.9"/>
<line x1="402.32" y1="395.18" x2="402.32" y2="424.71" stroke="#a9a2c8" stroke-width="0.9"/>
<line x1="399.72" y1="395.18" x2="404.92" y2="395.18" stroke="#a9a2c8" stroke-width="0.9"/>
<line x1="399.72" y1="424.71" x2="404.92" y2="424.71" stroke="#a9a2c8" stroke-width="0.9"/>
<line x1="424.35" y1="461.08" x2="424.35" y2="470.31" stroke="#a9a2c8" stroke-width="0.9"/>
<line x1="421.75" y1="461.08" x2="426.95" y2="461.08" stroke="#a9a2c8" stroke-width="0.9"/>
<line x1="421.75" y1="470.31" x2="426.95" y2="470.31" stroke="#a9a2c8" stroke-width="0.9"/>
<line x1="348.80" y1="396.10" x2="348.80" y2="420.10" stroke="#8cb8d8" stroke-width="0.9"/>
<line x1="346.20" y1="396.10" x2="351.40" y2="396.10" stroke="#8cb8d8" stroke-width="0.9"/>
<line x1="346.20" y1="420.10" x2="351.40" y2="420.10" stroke="#8cb8d8" stroke-width="0.9"/>
<line x1="392.87" y1="398.04" x2="392.87" y2="409.30" stroke="#8cb8d8" stroke-width="0.9"/>
<line x1="390.27" y1="398.04" x2="395.47" y2="398.04" stroke="#8cb8d8" stroke-width="0.9"/>
<line x1="390.27" y1="409.30" x2="395.47" y2="409.30" stroke="#8cb8d8" stroke-width="0.9"/>
<line x1="402.32" y1="396.10" x2="402.32" y2="420.10" stroke="#8cb8d8" stroke-width="0.9"/>
<line x1="399.72" y1="396.10" x2="404.92" y2="396.10" stroke="#8cb8d8" stroke-width="0.9"/>
<line x1="399.72" y1="420.10" x2="404.92" y2="420.10" stroke="#8cb8d8" stroke-width="0.9"/>
<circle cx="348.80" cy="408.10" r="2.2" fill="#8780b6"/>
<circle cx="392.87" cy="416.50" r="2.2" fill="#8780b6"/>
<circle cx="402.32" cy="409.95" r="2.2" fill="#8780b6"/>
<circle cx="414.91" cy="418.25" r="2.2" fill="#8780b6"/>
<circle cx="424.35" cy="465.70" r="2.2" fill="#8780b6"/>
<circle cx="433.80" cy="458.87" r="2.2" fill="#8780b6"/>
<circle cx="443.24" cy="493.20" r="2.2" fill="#8780b6"/>
<circle cx="455.83" cy="495.69" r="2.2" fill="#8780b6"/>
<circle cx="465.28" cy="496.15" r="2.2" fill="#8780b6"/>
<circle cx="474.72" cy="496.15" r="2.2" fill="#8780b6"/>
<circle cx="487.31" cy="496.15" r="2.2" fill="#8780b6"/>
<circle cx="496.76" cy="496.15" r="2.2" fill="#8780b6"/>
<rect x="346.70" y="406.00" width="4.2" height="4.2" fill="#5d6fb0"/>
<rect x="390.77" y="401.57" width="4.2" height="4.2" fill="#2d93c6"/>
<rect x="400.22" y="406.00" width="4.2" height="4.2" fill="#2d93c6"/>
<rect x="412.81" y="422.89" width="4.2" height="4.2" fill="#2d93c6"/>
<rect x="431.70" y="470.33" width="4.2" height="4.2" fill="#2d93c6"/>
<rect x="441.14" y="454.92" width="4.2" height="4.2" fill="#2d93c6"/>
<rect x="453.73" y="453.07" width="4.2" height="4.2" fill="#2d93c6"/>
<rect x="463.18" y="453.53" width="4.2" height="4.2" fill="#2d93c6"/>
<rect x="472.62" y="454.46" width="4.2" height="4.2" fill="#2d93c6"/>
<rect x="485.21" y="456.30" width="4.2" height="4.2" fill="#2d93c6"/>
<rect x="494.66" y="452.61" width="4.2" height="4.2" fill="#2d93c6"/>
<line x1="436.0" y1="396.5" x2="450.5" y2="396.5" stroke="#7c76a4" stroke-width="1.3"/>
<circle cx="443.30" cy="396.50" r="2.2" fill="#8780b6"/>
<text class="r" x="454.00" y="399.50" font-size="8.2" text-anchor="start" font-weight="normal" fill="#2a2a2a" >No Drug</text>
<line x1="436.0" y1="408.0" x2="450.5" y2="408.0" stroke="#42b4e2" stroke-width="1.3"/>
<rect x="441.20" y="405.90" width="4.2" height="4.2" fill="#2d93c6"/>
<text class="r" x="454.00" y="411.00" font-size="8.2" text-anchor="start" font-weight="normal" fill="#2a2a2a" >Doxycycline</text>
</svg>
</body></html>
